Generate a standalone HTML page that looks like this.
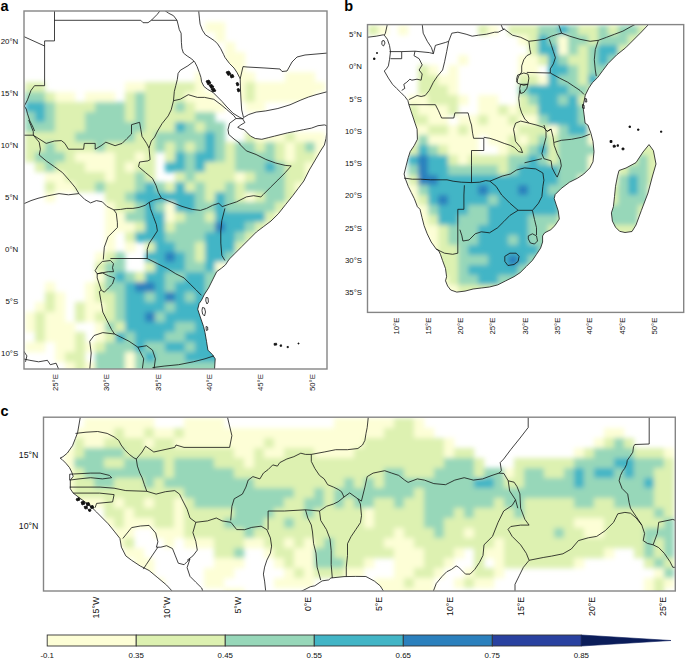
<!DOCTYPE html>
<html><head><meta charset="utf-8"><style>
html,body{margin:0;padding:0;background:#fff;width:685px;height:659px;overflow:hidden;}
svg{display:block;}
</style></head><body>
<svg width="685" height="659" viewBox="0 0 685 659">
<rect width="685" height="659" fill="#fff"/>
<defs>
<clipPath id="clipa"><rect x="24" y="11" width="303" height="358"/></clipPath>
<clipPath id="landa"><polygon points="23,10 164,10 168.8,13.3 173.5,15.7 177,20.3 178.2,25 179.3,29.7 181.1,33.2 181.4,42.3 181.9,48.4 183.4,53 187.2,56 191.8,59 194.8,62.1 197.1,66.6 199.4,72.7 200.9,77.3 201.6,81.8 203.9,86.4 207.7,89.4 213,92.4 217.6,97 222.1,101.5 226,106 233.1,113.3 239.1,117 241,118 243.5,119 244.9,122.5 240.9,124.9 237.7,127.3 240.9,128.9 244.1,129.7 246.5,132.1 250.5,136.1 255.3,138.5 261.8,139.3 268.2,137.7 274.6,136.1 281,134.5 287.4,132.9 295.5,131.3 303.5,129.7 311.5,128.1 318,125.7 324.4,124.9 326.8,125.7 326.8,132.1 326,138.5 324.4,145 321.1,150 314.7,160.9 309.3,170 303.8,181 298.3,188.3 292.9,195.5 285.6,204.6 278.3,213.8 271,221 263.7,226.5 256.4,232 249.1,239.3 241.9,246.5 234.6,253.8 229.1,259.3 225.5,264.8 221.7,268 216.7,271.7 212.6,279.9 208.5,288.1 204.5,294.2 201.4,300.4 199.2,303.4 197.7,309.2 200.6,318 203.6,326.7 205,332.6 206.5,341.3 207.9,350.1 212.3,354.5 215.2,358.8 214.5,371 23,371"/><polygon points="198.6,10 199.4,18.1 200.1,24.1 202.4,30.2 205.4,34.8 210,37.8 214.5,40.8 217.6,43.9 220.6,48.4 223.6,54.5 225,57.5 229.6,63.6 234.1,68.1 237.1,72.7 239.4,77.2 240.2,78.8 240.5,90 241,100 241.7,110 243.5,117.5 248.8,114.5 256.1,112.1 265.8,110.9 277.9,108.5 290,104.8 300.9,100 308.5,97 316,94.7 329,91.3 329,10"/></clipPath>
<clipPath id="clipb"><rect x="367.5" y="24.6" width="316.20000000000005" height="287.79999999999995"/></clipPath>
<clipPath id="landb"><polygon points="366,37.3 376.2,36.2 383.3,34.8 384.3,35.2 387.4,39.3 389.5,45.4 390.5,51.6 389.5,59.7 388.4,65.9 386.4,68.9 384.3,71 388.4,78.1 392.5,84.3 396.6,88.4 400.7,92.4 404.8,96.5 407.9,100.6 408.9,104.7 410.9,110.8 413,117 415,123.1 417.1,129.2 417.4,139.3 414.3,145.4 410.2,151.6 408.2,157.7 406.1,165.9 404.1,174 405.1,178.1 408.2,186.3 411.2,192.4 414.3,198.6 417.4,206.7 420,209.3 422,217.5 424.1,225.7 427.2,233.8 431.2,242 436.3,249.2 438.4,250.2 440.4,254.3 442.5,260.4 445.5,268.6 446.6,276.7 445.5,280.8 447.6,286 450.7,290 456.8,292.1 465,291.1 473.1,289 481.3,288 489.5,287 497.7,284.9 505.8,280.8 514,276.7 520.1,272.7 526.3,266.5 532.4,260.4 536.5,254.3 540.6,248.1 542.6,242 542.6,235.9 544.7,232.8 550.8,229.7 554.9,225.7 559.3,219 558.2,210.8 556.2,204.7 554.2,198.6 555.2,194.5 561.3,188.4 569.5,182.2 577.7,178.1 583.8,174 589.9,167.9 593,161.8 594,151.6 593,141.4 590.9,133.2 587.9,125 585.1,123.1 584.1,114.9 583,106.7 584.3,100 585.3,95.1 588.8,88.1 592.3,82.8 597.6,77.6 602.8,70.5 608.1,63.5 616.8,54.8 625.6,47.8 634.4,39 641.4,32 649,23 366,23"/><polygon points="649,144.6 653.4,150.6 656,164 652.5,176 648,193 641.4,210.4 636,225 632,231.5 625,232.5 619.6,231.3 615.5,227.2 612.4,221.1 611.4,212.9 613.4,206.7 614.5,196.5 615.5,186.3 617.5,176.1 619,170.5 626,168 636,162.6 643,152"/></clipPath>
<clipPath id="clipc"><rect x="43.5" y="417.2" width="631.8" height="173.8"/></clipPath>
<clipPath id="landc"><polygon points="80.5,416 677,416 677,592 384.9,592 384.9,591.1 380.5,586.7 374.7,580.9 365.9,576.5 348.4,576.5 330.9,578 322.1,580.9 310.4,586.7 300.2,591.1 300.2,592 172.5,592 172.5,591 166.6,585.1 157.9,577.8 149.1,570.5 140.4,566.1 131.6,560.3 125.8,555.9 121.4,547.2 119.9,538.4 114.1,531.1 108.2,523.8 102.4,518 96.6,512.1 90.7,506.3 84.9,501.9 79,497.5 73.2,493.1 70.3,488.8 70.3,480 73.2,476.4 71.7,472 69.5,467.6 65.9,463.3 62.2,459.6 60.1,458.1 63,456.7 67.4,453 72.5,445.7 75.4,438.4 77.6,432.6"/></clipPath>
<filter id="bl" x="-5%" y="-5%" width="110%" height="110%"><feGaussianBlur stdDeviation="2.5"/></filter>
</defs>
<g clip-path="url(#clipa)"><g clip-path="url(#landa)"><g filter="url(#bl)"><rect x="205.00" y="22.00" width="20.30" height="10.30" fill="#fdfed6"/>
<rect x="215.00" y="32.00" width="10.30" height="10.30" fill="#fdfed6"/>
<rect x="225.00" y="42.00" width="10.30" height="10.30" fill="#fdfed6"/>
<rect x="225.00" y="52.00" width="20.30" height="10.30" fill="#fdfed6"/>
<rect x="225.00" y="62.00" width="20.30" height="10.30" fill="#fdfed6"/>
<rect x="195.00" y="72.00" width="20.30" height="10.30" fill="#fdfed6"/>
<rect x="235.00" y="72.00" width="20.30" height="10.30" fill="#fdfed6"/>
<rect x="285.00" y="72.00" width="30.30" height="10.30" fill="#fdfed6"/>
<rect x="25.00" y="82.00" width="20.30" height="10.30" fill="#ddf1b1"/>
<rect x="125.00" y="82.00" width="20.30" height="10.30" fill="#fdfed6"/>
<rect x="145.00" y="82.00" width="50.30" height="10.30" fill="#ddf1b1"/>
<rect x="195.00" y="82.00" width="10.30" height="10.30" fill="#fdfed6"/>
<rect x="235.00" y="82.00" width="10.30" height="10.30" fill="#fdfed6"/>
<rect x="245.00" y="82.00" width="10.30" height="10.30" fill="#ddf1b1"/>
<rect x="255.00" y="82.00" width="70.30" height="10.30" fill="#fdfed6"/>
<rect x="25.00" y="92.00" width="20.30" height="10.30" fill="#97d7b9"/>
<rect x="45.00" y="92.00" width="10.30" height="10.30" fill="#ddf1b1"/>
<rect x="55.00" y="92.00" width="20.30" height="10.30" fill="#fdfed6"/>
<rect x="85.00" y="92.00" width="30.30" height="10.30" fill="#fdfed6"/>
<rect x="125.00" y="92.00" width="10.30" height="10.30" fill="#ddf1b1"/>
<rect x="135.00" y="92.00" width="10.30" height="10.30" fill="#97d7b9"/>
<rect x="145.00" y="92.00" width="40.30" height="10.30" fill="#ddf1b1"/>
<rect x="185.00" y="92.00" width="30.30" height="10.30" fill="#fdfed6"/>
<rect x="235.00" y="92.00" width="10.30" height="10.30" fill="#fdfed6"/>
<rect x="245.00" y="92.00" width="10.30" height="10.30" fill="#ddf1b1"/>
<rect x="255.00" y="92.00" width="60.30" height="10.30" fill="#fdfed6"/>
<rect x="25.00" y="102.00" width="20.30" height="10.30" fill="#42b5c6"/>
<rect x="45.00" y="102.00" width="10.30" height="10.30" fill="#97d7b9"/>
<rect x="55.00" y="102.00" width="40.30" height="10.30" fill="#ddf1b1"/>
<rect x="95.00" y="102.00" width="30.30" height="10.30" fill="#97d7b9"/>
<rect x="125.00" y="102.00" width="10.30" height="10.30" fill="#ddf1b1"/>
<rect x="135.00" y="102.00" width="10.30" height="10.30" fill="#97d7b9"/>
<rect x="145.00" y="102.00" width="30.30" height="10.30" fill="#ddf1b1"/>
<rect x="175.00" y="102.00" width="10.30" height="10.30" fill="#97d7b9"/>
<rect x="185.00" y="102.00" width="10.30" height="10.30" fill="#ddf1b1"/>
<rect x="195.00" y="102.00" width="30.30" height="10.30" fill="#fdfed6"/>
<rect x="245.00" y="102.00" width="20.30" height="10.30" fill="#fdfed6"/>
<rect x="25.00" y="112.00" width="10.30" height="10.30" fill="#97d7b9"/>
<rect x="35.00" y="112.00" width="10.30" height="10.30" fill="#42b5c6"/>
<rect x="45.00" y="112.00" width="10.30" height="10.30" fill="#97d7b9"/>
<rect x="55.00" y="112.00" width="30.30" height="10.30" fill="#ddf1b1"/>
<rect x="85.00" y="112.00" width="40.30" height="10.30" fill="#97d7b9"/>
<rect x="125.00" y="112.00" width="10.30" height="10.30" fill="#ddf1b1"/>
<rect x="135.00" y="112.00" width="10.30" height="10.30" fill="#97d7b9"/>
<rect x="145.00" y="112.00" width="50.30" height="10.30" fill="#ddf1b1"/>
<rect x="195.00" y="112.00" width="20.30" height="10.30" fill="#97d7b9"/>
<rect x="25.00" y="122.00" width="30.30" height="10.30" fill="#97d7b9"/>
<rect x="55.00" y="122.00" width="30.30" height="10.30" fill="#ddf1b1"/>
<rect x="85.00" y="122.00" width="60.30" height="10.30" fill="#97d7b9"/>
<rect x="145.00" y="122.00" width="30.30" height="10.30" fill="#ddf1b1"/>
<rect x="175.00" y="122.00" width="10.30" height="10.30" fill="#42b5c6"/>
<rect x="185.00" y="122.00" width="10.30" height="10.30" fill="#97d7b9"/>
<rect x="195.00" y="122.00" width="10.30" height="10.30" fill="#ddf1b1"/>
<rect x="205.00" y="122.00" width="20.30" height="10.30" fill="#97d7b9"/>
<rect x="25.00" y="132.00" width="50.30" height="10.30" fill="#ddf1b1"/>
<rect x="75.00" y="132.00" width="60.30" height="10.30" fill="#97d7b9"/>
<rect x="135.00" y="132.00" width="20.30" height="10.30" fill="#ddf1b1"/>
<rect x="155.00" y="132.00" width="50.30" height="10.30" fill="#97d7b9"/>
<rect x="205.00" y="132.00" width="10.30" height="10.30" fill="#42b5c6"/>
<rect x="215.00" y="132.00" width="10.30" height="10.30" fill="#97d7b9"/>
<rect x="245.00" y="132.00" width="10.30" height="10.30" fill="#ddf1b1"/>
<rect x="255.00" y="132.00" width="30.30" height="10.30" fill="#fdfed6"/>
<rect x="285.00" y="132.00" width="10.30" height="10.30" fill="#ddf1b1"/>
<rect x="295.00" y="132.00" width="30.30" height="10.30" fill="#fdfed6"/>
<rect x="25.00" y="142.00" width="20.30" height="10.30" fill="#ddf1b1"/>
<rect x="45.00" y="142.00" width="10.30" height="10.30" fill="#97d7b9"/>
<rect x="55.00" y="142.00" width="40.30" height="10.30" fill="#ddf1b1"/>
<rect x="95.00" y="142.00" width="10.30" height="10.30" fill="#97d7b9"/>
<rect x="105.00" y="142.00" width="50.30" height="10.30" fill="#ddf1b1"/>
<rect x="155.00" y="142.00" width="10.30" height="10.30" fill="#97d7b9"/>
<rect x="165.00" y="142.00" width="10.30" height="10.30" fill="#ddf1b1"/>
<rect x="175.00" y="142.00" width="10.30" height="10.30" fill="#97d7b9"/>
<rect x="185.00" y="142.00" width="10.30" height="10.30" fill="#ddf1b1"/>
<rect x="195.00" y="142.00" width="10.30" height="10.30" fill="#97d7b9"/>
<rect x="205.00" y="142.00" width="10.30" height="10.30" fill="#42b5c6"/>
<rect x="215.00" y="142.00" width="10.30" height="10.30" fill="#97d7b9"/>
<rect x="225.00" y="142.00" width="10.30" height="10.30" fill="#ddf1b1"/>
<rect x="235.00" y="142.00" width="20.30" height="10.30" fill="#97d7b9"/>
<rect x="255.00" y="142.00" width="10.30" height="10.30" fill="#ddf1b1"/>
<rect x="265.00" y="142.00" width="10.30" height="10.30" fill="#97d7b9"/>
<rect x="275.00" y="142.00" width="10.30" height="10.30" fill="#ddf1b1"/>
<rect x="285.00" y="142.00" width="10.30" height="10.30" fill="#fdfed6"/>
<rect x="295.00" y="142.00" width="10.30" height="10.30" fill="#ddf1b1"/>
<rect x="305.00" y="142.00" width="10.30" height="10.30" fill="#97d7b9"/>
<rect x="315.00" y="142.00" width="10.30" height="10.30" fill="#fdfed6"/>
<rect x="25.00" y="152.00" width="10.30" height="10.30" fill="#ddf1b1"/>
<rect x="35.00" y="152.00" width="30.30" height="10.30" fill="#97d7b9"/>
<rect x="65.00" y="152.00" width="10.30" height="10.30" fill="#ddf1b1"/>
<rect x="75.00" y="152.00" width="40.30" height="10.30" fill="#fdfed6"/>
<rect x="115.00" y="152.00" width="20.30" height="10.30" fill="#ddf1b1"/>
<rect x="135.00" y="152.00" width="10.30" height="10.30" fill="#fdfed6"/>
<rect x="145.00" y="152.00" width="10.30" height="10.30" fill="#ddf1b1"/>
<rect x="165.00" y="152.00" width="10.30" height="10.30" fill="#ddf1b1"/>
<rect x="175.00" y="152.00" width="10.30" height="10.30" fill="#42b5c6"/>
<rect x="185.00" y="152.00" width="10.30" height="10.30" fill="#97d7b9"/>
<rect x="195.00" y="152.00" width="20.30" height="10.30" fill="#42b5c6"/>
<rect x="215.00" y="152.00" width="10.30" height="10.30" fill="#97d7b9"/>
<rect x="225.00" y="152.00" width="10.30" height="10.30" fill="#ddf1b1"/>
<rect x="235.00" y="152.00" width="40.30" height="10.30" fill="#97d7b9"/>
<rect x="275.00" y="152.00" width="10.30" height="10.30" fill="#ddf1b1"/>
<rect x="285.00" y="152.00" width="10.30" height="10.30" fill="#fdfed6"/>
<rect x="295.00" y="152.00" width="20.30" height="10.30" fill="#ddf1b1"/>
<rect x="315.00" y="152.00" width="10.30" height="10.30" fill="#fdfed6"/>
<rect x="35.00" y="162.00" width="10.30" height="10.30" fill="#ddf1b1"/>
<rect x="45.00" y="162.00" width="10.30" height="10.30" fill="#97d7b9"/>
<rect x="55.00" y="162.00" width="30.30" height="10.30" fill="#ddf1b1"/>
<rect x="85.00" y="162.00" width="30.30" height="10.30" fill="#fdfed6"/>
<rect x="115.00" y="162.00" width="10.30" height="10.30" fill="#ddf1b1"/>
<rect x="125.00" y="162.00" width="10.30" height="10.30" fill="#fdfed6"/>
<rect x="135.00" y="162.00" width="20.30" height="10.30" fill="#ddf1b1"/>
<rect x="165.00" y="162.00" width="20.30" height="10.30" fill="#42b5c6"/>
<rect x="185.00" y="162.00" width="10.30" height="10.30" fill="#97d7b9"/>
<rect x="195.00" y="162.00" width="10.30" height="10.30" fill="#42b5c6"/>
<rect x="205.00" y="162.00" width="30.30" height="10.30" fill="#ddf1b1"/>
<rect x="235.00" y="162.00" width="30.30" height="10.30" fill="#97d7b9"/>
<rect x="265.00" y="162.00" width="10.30" height="10.30" fill="#42b5c6"/>
<rect x="275.00" y="162.00" width="10.30" height="10.30" fill="#97d7b9"/>
<rect x="285.00" y="162.00" width="20.30" height="10.30" fill="#ddf1b1"/>
<rect x="305.00" y="162.00" width="10.30" height="10.30" fill="#fdfed6"/>
<rect x="45.00" y="172.00" width="20.30" height="10.30" fill="#fdfed6"/>
<rect x="65.00" y="172.00" width="40.30" height="10.30" fill="#ddf1b1"/>
<rect x="105.00" y="172.00" width="10.30" height="10.30" fill="#fdfed6"/>
<rect x="115.00" y="172.00" width="20.30" height="10.30" fill="#ddf1b1"/>
<rect x="135.00" y="172.00" width="10.30" height="10.30" fill="#97d7b9"/>
<rect x="145.00" y="172.00" width="10.30" height="10.30" fill="#ddf1b1"/>
<rect x="175.00" y="172.00" width="10.30" height="10.30" fill="#ddf1b1"/>
<rect x="185.00" y="172.00" width="10.30" height="10.30" fill="#97d7b9"/>
<rect x="195.00" y="172.00" width="40.30" height="10.30" fill="#ddf1b1"/>
<rect x="235.00" y="172.00" width="10.30" height="10.30" fill="#fdfed6"/>
<rect x="245.00" y="172.00" width="10.30" height="10.30" fill="#ddf1b1"/>
<rect x="255.00" y="172.00" width="30.30" height="10.30" fill="#97d7b9"/>
<rect x="285.00" y="172.00" width="20.30" height="10.30" fill="#ddf1b1"/>
<rect x="305.00" y="172.00" width="10.30" height="10.30" fill="#fdfed6"/>
<rect x="45.00" y="182.00" width="10.30" height="10.30" fill="#ddf1b1"/>
<rect x="55.00" y="182.00" width="20.30" height="10.30" fill="#fdfed6"/>
<rect x="75.00" y="182.00" width="20.30" height="10.30" fill="#ddf1b1"/>
<rect x="95.00" y="182.00" width="10.30" height="10.30" fill="#97d7b9"/>
<rect x="105.00" y="182.00" width="30.30" height="10.30" fill="#ddf1b1"/>
<rect x="135.00" y="182.00" width="10.30" height="10.30" fill="#97d7b9"/>
<rect x="145.00" y="182.00" width="10.30" height="10.30" fill="#42b5c6"/>
<rect x="155.00" y="182.00" width="10.30" height="10.30" fill="#97d7b9"/>
<rect x="165.00" y="182.00" width="10.30" height="10.30" fill="#ddf1b1"/>
<rect x="175.00" y="182.00" width="10.30" height="10.30" fill="#42b5c6"/>
<rect x="185.00" y="182.00" width="10.30" height="10.30" fill="#ddf1b1"/>
<rect x="195.00" y="182.00" width="10.30" height="10.30" fill="#97d7b9"/>
<rect x="205.00" y="182.00" width="20.30" height="10.30" fill="#ddf1b1"/>
<rect x="225.00" y="182.00" width="10.30" height="10.30" fill="#97d7b9"/>
<rect x="235.00" y="182.00" width="10.30" height="10.30" fill="#ddf1b1"/>
<rect x="245.00" y="182.00" width="40.30" height="10.30" fill="#97d7b9"/>
<rect x="285.00" y="182.00" width="10.30" height="10.30" fill="#ddf1b1"/>
<rect x="295.00" y="182.00" width="10.30" height="10.30" fill="#fdfed6"/>
<rect x="45.00" y="192.00" width="10.30" height="10.30" fill="#fdfed6"/>
<rect x="105.00" y="192.00" width="20.30" height="10.30" fill="#ddf1b1"/>
<rect x="125.00" y="192.00" width="10.30" height="10.30" fill="#97d7b9"/>
<rect x="135.00" y="192.00" width="60.30" height="10.30" fill="#42b5c6"/>
<rect x="195.00" y="192.00" width="10.30" height="10.30" fill="#97d7b9"/>
<rect x="205.00" y="192.00" width="10.30" height="10.30" fill="#ddf1b1"/>
<rect x="215.00" y="192.00" width="10.30" height="10.30" fill="#42b5c6"/>
<rect x="225.00" y="192.00" width="10.30" height="10.30" fill="#97d7b9"/>
<rect x="235.00" y="192.00" width="10.30" height="10.30" fill="#ddf1b1"/>
<rect x="245.00" y="192.00" width="10.30" height="10.30" fill="#fdfed6"/>
<rect x="255.00" y="192.00" width="10.30" height="10.30" fill="#ddf1b1"/>
<rect x="265.00" y="192.00" width="20.30" height="10.30" fill="#97d7b9"/>
<rect x="285.00" y="192.00" width="10.30" height="10.30" fill="#ddf1b1"/>
<rect x="295.00" y="192.00" width="10.30" height="10.30" fill="#fdfed6"/>
<rect x="105.00" y="202.00" width="10.30" height="10.30" fill="#fdfed6"/>
<rect x="115.00" y="202.00" width="20.30" height="10.30" fill="#ddf1b1"/>
<rect x="135.00" y="202.00" width="10.30" height="10.30" fill="#97d7b9"/>
<rect x="145.00" y="202.00" width="10.30" height="10.30" fill="#42b5c6"/>
<rect x="155.00" y="202.00" width="10.30" height="10.30" fill="#97d7b9"/>
<rect x="165.00" y="202.00" width="10.30" height="10.30" fill="#fdfed6"/>
<rect x="175.00" y="202.00" width="20.30" height="10.30" fill="#42b5c6"/>
<rect x="195.00" y="202.00" width="20.30" height="10.30" fill="#97d7b9"/>
<rect x="215.00" y="202.00" width="10.30" height="10.30" fill="#42b5c6"/>
<rect x="225.00" y="202.00" width="50.30" height="10.30" fill="#97d7b9"/>
<rect x="275.00" y="202.00" width="10.30" height="10.30" fill="#ddf1b1"/>
<rect x="285.00" y="202.00" width="10.30" height="10.30" fill="#fdfed6"/>
<rect x="105.00" y="212.00" width="20.30" height="10.30" fill="#fdfed6"/>
<rect x="125.00" y="212.00" width="20.30" height="10.30" fill="#97d7b9"/>
<rect x="145.00" y="212.00" width="20.30" height="10.30" fill="#42b5c6"/>
<rect x="165.00" y="212.00" width="10.30" height="10.30" fill="#fdfed6"/>
<rect x="175.00" y="212.00" width="10.30" height="10.30" fill="#ddf1b1"/>
<rect x="185.00" y="212.00" width="20.30" height="10.30" fill="#97d7b9"/>
<rect x="205.00" y="212.00" width="10.30" height="10.30" fill="#ddf1b1"/>
<rect x="215.00" y="212.00" width="50.30" height="10.30" fill="#42b5c6"/>
<rect x="265.00" y="212.00" width="10.30" height="10.30" fill="#ddf1b1"/>
<rect x="275.00" y="212.00" width="10.30" height="10.30" fill="#fdfed6"/>
<rect x="105.00" y="222.00" width="30.30" height="10.30" fill="#fdfed6"/>
<rect x="135.00" y="222.00" width="10.30" height="10.30" fill="#ddf1b1"/>
<rect x="145.00" y="222.00" width="20.30" height="10.30" fill="#42b5c6"/>
<rect x="165.00" y="222.00" width="10.30" height="10.30" fill="#ddf1b1"/>
<rect x="175.00" y="222.00" width="40.30" height="10.30" fill="#97d7b9"/>
<rect x="215.00" y="222.00" width="10.30" height="10.30" fill="#2b80bd"/>
<rect x="225.00" y="222.00" width="20.30" height="10.30" fill="#42b5c6"/>
<rect x="245.00" y="222.00" width="10.30" height="10.30" fill="#97d7b9"/>
<rect x="255.00" y="222.00" width="10.30" height="10.30" fill="#ddf1b1"/>
<rect x="265.00" y="222.00" width="10.30" height="10.30" fill="#fdfed6"/>
<rect x="105.00" y="232.00" width="10.30" height="10.30" fill="#fdfed6"/>
<rect x="125.00" y="232.00" width="10.30" height="10.30" fill="#ddf1b1"/>
<rect x="135.00" y="232.00" width="30.30" height="10.30" fill="#42b5c6"/>
<rect x="165.00" y="232.00" width="40.30" height="10.30" fill="#97d7b9"/>
<rect x="205.00" y="232.00" width="30.30" height="10.30" fill="#42b5c6"/>
<rect x="235.00" y="232.00" width="10.30" height="10.30" fill="#97d7b9"/>
<rect x="245.00" y="232.00" width="10.30" height="10.30" fill="#ddf1b1"/>
<rect x="105.00" y="242.00" width="10.30" height="10.30" fill="#fdfed6"/>
<rect x="125.00" y="242.00" width="10.30" height="10.30" fill="#fdfed6"/>
<rect x="145.00" y="242.00" width="10.30" height="10.30" fill="#ddf1b1"/>
<rect x="155.00" y="242.00" width="20.30" height="10.30" fill="#42b5c6"/>
<rect x="175.00" y="242.00" width="20.30" height="10.30" fill="#97d7b9"/>
<rect x="195.00" y="242.00" width="10.30" height="10.30" fill="#ddf1b1"/>
<rect x="205.00" y="242.00" width="30.30" height="10.30" fill="#42b5c6"/>
<rect x="235.00" y="242.00" width="10.30" height="10.30" fill="#ddf1b1"/>
<rect x="95.00" y="252.00" width="10.30" height="10.30" fill="#fdfed6"/>
<rect x="105.00" y="252.00" width="10.30" height="10.30" fill="#ddf1b1"/>
<rect x="115.00" y="252.00" width="10.30" height="10.30" fill="#97d7b9"/>
<rect x="145.00" y="252.00" width="20.30" height="10.30" fill="#42b5c6"/>
<rect x="165.00" y="252.00" width="10.30" height="10.30" fill="#2b80bd"/>
<rect x="175.00" y="252.00" width="10.30" height="10.30" fill="#42b5c6"/>
<rect x="185.00" y="252.00" width="10.30" height="10.30" fill="#97d7b9"/>
<rect x="195.00" y="252.00" width="10.30" height="10.30" fill="#ddf1b1"/>
<rect x="205.00" y="252.00" width="20.30" height="10.30" fill="#42b5c6"/>
<rect x="225.00" y="252.00" width="10.30" height="10.30" fill="#97d7b9"/>
<rect x="95.00" y="262.00" width="10.30" height="10.30" fill="#ddf1b1"/>
<rect x="105.00" y="262.00" width="20.30" height="10.30" fill="#97d7b9"/>
<rect x="145.00" y="262.00" width="10.30" height="10.30" fill="#ddf1b1"/>
<rect x="155.00" y="262.00" width="30.30" height="10.30" fill="#42b5c6"/>
<rect x="185.00" y="262.00" width="20.30" height="10.30" fill="#97d7b9"/>
<rect x="205.00" y="262.00" width="10.30" height="10.30" fill="#42b5c6"/>
<rect x="215.00" y="262.00" width="10.30" height="10.30" fill="#fdfed6"/>
<rect x="95.00" y="272.00" width="10.30" height="10.30" fill="#fdfed6"/>
<rect x="105.00" y="272.00" width="10.30" height="10.30" fill="#97d7b9"/>
<rect x="115.00" y="272.00" width="10.30" height="10.30" fill="#42b5c6"/>
<rect x="125.00" y="272.00" width="10.30" height="10.30" fill="#97d7b9"/>
<rect x="135.00" y="272.00" width="10.30" height="10.30" fill="#ddf1b1"/>
<rect x="145.00" y="272.00" width="20.30" height="10.30" fill="#42b5c6"/>
<rect x="165.00" y="272.00" width="20.30" height="10.30" fill="#97d7b9"/>
<rect x="185.00" y="272.00" width="20.30" height="10.30" fill="#42b5c6"/>
<rect x="205.00" y="272.00" width="20.30" height="10.30" fill="#97d7b9"/>
<rect x="225.00" y="272.00" width="10.30" height="10.30" fill="#fdfed6"/>
<rect x="45.00" y="282.00" width="10.30" height="10.30" fill="#fdfed6"/>
<rect x="85.00" y="282.00" width="10.30" height="10.30" fill="#fdfed6"/>
<rect x="95.00" y="282.00" width="10.30" height="10.30" fill="#ddf1b1"/>
<rect x="105.00" y="282.00" width="20.30" height="10.30" fill="#97d7b9"/>
<rect x="125.00" y="282.00" width="10.30" height="10.30" fill="#42b5c6"/>
<rect x="135.00" y="282.00" width="20.30" height="10.30" fill="#2b80bd"/>
<rect x="155.00" y="282.00" width="10.30" height="10.30" fill="#42b5c6"/>
<rect x="165.00" y="282.00" width="10.30" height="10.30" fill="#97d7b9"/>
<rect x="175.00" y="282.00" width="30.30" height="10.30" fill="#42b5c6"/>
<rect x="205.00" y="282.00" width="20.30" height="10.30" fill="#97d7b9"/>
<rect x="45.00" y="292.00" width="10.30" height="10.30" fill="#ddf1b1"/>
<rect x="55.00" y="292.00" width="10.30" height="10.30" fill="#fdfed6"/>
<rect x="85.00" y="292.00" width="10.30" height="10.30" fill="#fdfed6"/>
<rect x="95.00" y="292.00" width="20.30" height="10.30" fill="#ddf1b1"/>
<rect x="115.00" y="292.00" width="10.30" height="10.30" fill="#97d7b9"/>
<rect x="125.00" y="292.00" width="20.30" height="10.30" fill="#42b5c6"/>
<rect x="145.00" y="292.00" width="10.30" height="10.30" fill="#97d7b9"/>
<rect x="155.00" y="292.00" width="10.30" height="10.30" fill="#42b5c6"/>
<rect x="165.00" y="292.00" width="10.30" height="10.30" fill="#2b80bd"/>
<rect x="175.00" y="292.00" width="10.30" height="10.30" fill="#42b5c6"/>
<rect x="185.00" y="292.00" width="10.30" height="10.30" fill="#97d7b9"/>
<rect x="195.00" y="292.00" width="10.30" height="10.30" fill="#42b5c6"/>
<rect x="205.00" y="292.00" width="10.30" height="10.30" fill="#97d7b9"/>
<rect x="215.00" y="292.00" width="10.30" height="10.30" fill="#ddf1b1"/>
<rect x="35.00" y="302.00" width="10.30" height="10.30" fill="#fdfed6"/>
<rect x="45.00" y="302.00" width="10.30" height="10.30" fill="#ddf1b1"/>
<rect x="55.00" y="302.00" width="10.30" height="10.30" fill="#fdfed6"/>
<rect x="75.00" y="302.00" width="10.30" height="10.30" fill="#ddf1b1"/>
<rect x="85.00" y="302.00" width="20.30" height="10.30" fill="#fdfed6"/>
<rect x="105.00" y="302.00" width="10.30" height="10.30" fill="#ddf1b1"/>
<rect x="115.00" y="302.00" width="10.30" height="10.30" fill="#97d7b9"/>
<rect x="125.00" y="302.00" width="40.30" height="10.30" fill="#42b5c6"/>
<rect x="165.00" y="302.00" width="10.30" height="10.30" fill="#97d7b9"/>
<rect x="175.00" y="302.00" width="40.30" height="10.30" fill="#42b5c6"/>
<rect x="215.00" y="302.00" width="10.30" height="10.30" fill="#ddf1b1"/>
<rect x="25.00" y="312.00" width="10.30" height="10.30" fill="#fdfed6"/>
<rect x="35.00" y="312.00" width="10.30" height="10.30" fill="#ddf1b1"/>
<rect x="45.00" y="312.00" width="20.30" height="10.30" fill="#fdfed6"/>
<rect x="75.00" y="312.00" width="10.30" height="10.30" fill="#ddf1b1"/>
<rect x="85.00" y="312.00" width="10.30" height="10.30" fill="#fdfed6"/>
<rect x="95.00" y="312.00" width="20.30" height="10.30" fill="#ddf1b1"/>
<rect x="115.00" y="312.00" width="10.30" height="10.30" fill="#97d7b9"/>
<rect x="125.00" y="312.00" width="20.30" height="10.30" fill="#42b5c6"/>
<rect x="145.00" y="312.00" width="10.30" height="10.30" fill="#2b80bd"/>
<rect x="155.00" y="312.00" width="10.30" height="10.30" fill="#97d7b9"/>
<rect x="165.00" y="312.00" width="50.30" height="10.30" fill="#42b5c6"/>
<rect x="215.00" y="312.00" width="10.30" height="10.30" fill="#97d7b9"/>
<rect x="25.00" y="322.00" width="10.30" height="10.30" fill="#fdfed6"/>
<rect x="35.00" y="322.00" width="10.30" height="10.30" fill="#ddf1b1"/>
<rect x="45.00" y="322.00" width="30.30" height="10.30" fill="#fdfed6"/>
<rect x="95.00" y="322.00" width="10.30" height="10.30" fill="#fdfed6"/>
<rect x="105.00" y="322.00" width="10.30" height="10.30" fill="#97d7b9"/>
<rect x="115.00" y="322.00" width="10.30" height="10.30" fill="#ddf1b1"/>
<rect x="125.00" y="322.00" width="50.30" height="10.30" fill="#42b5c6"/>
<rect x="175.00" y="322.00" width="20.30" height="10.30" fill="#97d7b9"/>
<rect x="195.00" y="322.00" width="20.30" height="10.30" fill="#42b5c6"/>
<rect x="215.00" y="322.00" width="10.30" height="10.30" fill="#97d7b9"/>
<rect x="35.00" y="332.00" width="10.30" height="10.30" fill="#ddf1b1"/>
<rect x="45.00" y="332.00" width="30.30" height="10.30" fill="#fdfed6"/>
<rect x="75.00" y="332.00" width="10.30" height="10.30" fill="#ddf1b1"/>
<rect x="95.00" y="332.00" width="10.30" height="10.30" fill="#fdfed6"/>
<rect x="105.00" y="332.00" width="10.30" height="10.30" fill="#ddf1b1"/>
<rect x="115.00" y="332.00" width="10.30" height="10.30" fill="#42b5c6"/>
<rect x="125.00" y="332.00" width="10.30" height="10.30" fill="#97d7b9"/>
<rect x="135.00" y="332.00" width="30.30" height="10.30" fill="#42b5c6"/>
<rect x="165.00" y="332.00" width="20.30" height="10.30" fill="#97d7b9"/>
<rect x="185.00" y="332.00" width="30.30" height="10.30" fill="#42b5c6"/>
<rect x="215.00" y="332.00" width="10.30" height="10.30" fill="#97d7b9"/>
<rect x="25.00" y="342.00" width="20.30" height="10.30" fill="#fdfed6"/>
<rect x="55.00" y="342.00" width="20.30" height="10.30" fill="#fdfed6"/>
<rect x="75.00" y="342.00" width="10.30" height="10.30" fill="#ddf1b1"/>
<rect x="85.00" y="342.00" width="10.30" height="10.30" fill="#fdfed6"/>
<rect x="95.00" y="342.00" width="10.30" height="10.30" fill="#ddf1b1"/>
<rect x="105.00" y="342.00" width="30.30" height="10.30" fill="#97d7b9"/>
<rect x="135.00" y="342.00" width="10.30" height="10.30" fill="#42b5c6"/>
<rect x="145.00" y="342.00" width="20.30" height="10.30" fill="#97d7b9"/>
<rect x="165.00" y="342.00" width="20.30" height="10.30" fill="#42b5c6"/>
<rect x="185.00" y="342.00" width="10.30" height="10.30" fill="#97d7b9"/>
<rect x="195.00" y="342.00" width="20.30" height="10.30" fill="#42b5c6"/>
<rect x="215.00" y="342.00" width="10.30" height="10.30" fill="#97d7b9"/>
<rect x="55.00" y="352.00" width="10.30" height="10.30" fill="#fdfed6"/>
<rect x="65.00" y="352.00" width="20.30" height="10.30" fill="#ddf1b1"/>
<rect x="95.00" y="352.00" width="30.30" height="10.30" fill="#97d7b9"/>
<rect x="125.00" y="352.00" width="10.30" height="10.30" fill="#fdfed6"/>
<rect x="135.00" y="352.00" width="10.30" height="10.30" fill="#97d7b9"/>
<rect x="145.00" y="352.00" width="10.30" height="10.30" fill="#42b5c6"/>
<rect x="155.00" y="352.00" width="30.30" height="10.30" fill="#97d7b9"/>
<rect x="185.00" y="352.00" width="40.30" height="10.30" fill="#42b5c6"/>
<rect x="225.00" y="352.00" width="10.30" height="10.30" fill="#ddf1b1"/>
<rect x="65.00" y="362.00" width="10.30" height="10.30" fill="#fdfed6"/>
<rect x="75.00" y="362.00" width="10.30" height="10.30" fill="#ddf1b1"/>
<rect x="85.00" y="362.00" width="10.30" height="10.30" fill="#fdfed6"/>
<rect x="95.00" y="362.00" width="30.30" height="10.30" fill="#97d7b9"/>
<rect x="125.00" y="362.00" width="10.30" height="10.30" fill="#fdfed6"/>
<rect x="135.00" y="362.00" width="90.30" height="10.30" fill="#97d7b9"/>
<rect x="225.00" y="362.00" width="10.30" height="10.30" fill="#ddf1b1"/></g></g></g>
<g clip-path="url(#clipb)"><g clip-path="url(#landb)"><g filter="url(#bl)"><rect x="368.00" y="25.00" width="10.30" height="10.30" fill="#ddf1b1"/>
<rect x="378.00" y="25.00" width="10.30" height="10.30" fill="#fdfed6"/>
<rect x="398.00" y="25.00" width="10.30" height="10.30" fill="#fdfed6"/>
<rect x="478.00" y="25.00" width="10.30" height="10.30" fill="#ddf1b1"/>
<rect x="488.00" y="25.00" width="10.30" height="10.30" fill="#fdfed6"/>
<rect x="508.00" y="25.00" width="30.30" height="10.30" fill="#ddf1b1"/>
<rect x="538.00" y="25.00" width="20.30" height="10.30" fill="#97d7b9"/>
<rect x="558.00" y="25.00" width="10.30" height="10.30" fill="#42b5c6"/>
<rect x="568.00" y="25.00" width="10.30" height="10.30" fill="#97d7b9"/>
<rect x="578.00" y="25.00" width="20.30" height="10.30" fill="#ddf1b1"/>
<rect x="598.00" y="25.00" width="10.30" height="10.30" fill="#97d7b9"/>
<rect x="608.00" y="25.00" width="10.30" height="10.30" fill="#ddf1b1"/>
<rect x="618.00" y="25.00" width="20.30" height="10.30" fill="#97d7b9"/>
<rect x="638.00" y="25.00" width="10.30" height="10.30" fill="#ddf1b1"/>
<rect x="518.00" y="35.00" width="10.30" height="10.30" fill="#fdfed6"/>
<rect x="528.00" y="35.00" width="10.30" height="10.30" fill="#ddf1b1"/>
<rect x="538.00" y="35.00" width="10.30" height="10.30" fill="#42b5c6"/>
<rect x="548.00" y="35.00" width="10.30" height="10.30" fill="#97d7b9"/>
<rect x="558.00" y="35.00" width="10.30" height="10.30" fill="#fdfed6"/>
<rect x="568.00" y="35.00" width="20.30" height="10.30" fill="#97d7b9"/>
<rect x="588.00" y="35.00" width="10.30" height="10.30" fill="#ddf1b1"/>
<rect x="598.00" y="35.00" width="30.30" height="10.30" fill="#97d7b9"/>
<rect x="628.00" y="35.00" width="10.30" height="10.30" fill="#ddf1b1"/>
<rect x="528.00" y="45.00" width="10.30" height="10.30" fill="#ddf1b1"/>
<rect x="538.00" y="45.00" width="20.30" height="10.30" fill="#42b5c6"/>
<rect x="558.00" y="45.00" width="10.30" height="10.30" fill="#fdfed6"/>
<rect x="568.00" y="45.00" width="10.30" height="10.30" fill="#97d7b9"/>
<rect x="578.00" y="45.00" width="10.30" height="10.30" fill="#ddf1b1"/>
<rect x="588.00" y="45.00" width="10.30" height="10.30" fill="#97d7b9"/>
<rect x="598.00" y="45.00" width="20.30" height="10.30" fill="#42b5c6"/>
<rect x="618.00" y="45.00" width="10.30" height="10.30" fill="#ddf1b1"/>
<rect x="458.00" y="55.00" width="10.30" height="10.30" fill="#fdfed6"/>
<rect x="518.00" y="55.00" width="20.30" height="10.30" fill="#fdfed6"/>
<rect x="538.00" y="55.00" width="10.30" height="10.30" fill="#ddf1b1"/>
<rect x="548.00" y="55.00" width="10.30" height="10.30" fill="#42b5c6"/>
<rect x="558.00" y="55.00" width="10.30" height="10.30" fill="#97d7b9"/>
<rect x="568.00" y="55.00" width="20.30" height="10.30" fill="#ddf1b1"/>
<rect x="588.00" y="55.00" width="10.30" height="10.30" fill="#97d7b9"/>
<rect x="598.00" y="55.00" width="10.30" height="10.30" fill="#42b5c6"/>
<rect x="608.00" y="55.00" width="10.30" height="10.30" fill="#97d7b9"/>
<rect x="418.00" y="65.00" width="10.30" height="10.30" fill="#ddf1b1"/>
<rect x="428.00" y="65.00" width="10.30" height="10.30" fill="#fdfed6"/>
<rect x="448.00" y="65.00" width="10.30" height="10.30" fill="#fdfed6"/>
<rect x="518.00" y="65.00" width="20.30" height="10.30" fill="#fdfed6"/>
<rect x="548.00" y="65.00" width="20.30" height="10.30" fill="#42b5c6"/>
<rect x="568.00" y="65.00" width="10.30" height="10.30" fill="#97d7b9"/>
<rect x="578.00" y="65.00" width="10.30" height="10.30" fill="#ddf1b1"/>
<rect x="588.00" y="65.00" width="20.30" height="10.30" fill="#97d7b9"/>
<rect x="608.00" y="65.00" width="10.30" height="10.30" fill="#fdfed6"/>
<rect x="418.00" y="75.00" width="20.30" height="10.30" fill="#ddf1b1"/>
<rect x="438.00" y="75.00" width="20.30" height="10.30" fill="#fdfed6"/>
<rect x="518.00" y="75.00" width="20.30" height="10.30" fill="#ddf1b1"/>
<rect x="538.00" y="75.00" width="10.30" height="10.30" fill="#fdfed6"/>
<rect x="548.00" y="75.00" width="10.30" height="10.30" fill="#42b5c6"/>
<rect x="558.00" y="75.00" width="20.30" height="10.30" fill="#97d7b9"/>
<rect x="578.00" y="75.00" width="10.30" height="10.30" fill="#ddf1b1"/>
<rect x="588.00" y="75.00" width="10.30" height="10.30" fill="#42b5c6"/>
<rect x="598.00" y="75.00" width="10.30" height="10.30" fill="#ddf1b1"/>
<rect x="418.00" y="85.00" width="30.30" height="10.30" fill="#ddf1b1"/>
<rect x="448.00" y="85.00" width="10.30" height="10.30" fill="#fdfed6"/>
<rect x="518.00" y="85.00" width="10.30" height="10.30" fill="#97d7b9"/>
<rect x="528.00" y="85.00" width="40.30" height="10.30" fill="#42b5c6"/>
<rect x="568.00" y="85.00" width="20.30" height="10.30" fill="#97d7b9"/>
<rect x="588.00" y="85.00" width="10.30" height="10.30" fill="#ddf1b1"/>
<rect x="408.00" y="95.00" width="20.30" height="10.30" fill="#fdfed6"/>
<rect x="428.00" y="95.00" width="30.30" height="10.30" fill="#ddf1b1"/>
<rect x="458.00" y="95.00" width="10.30" height="10.30" fill="#fdfed6"/>
<rect x="478.00" y="95.00" width="20.30" height="10.30" fill="#fdfed6"/>
<rect x="518.00" y="95.00" width="10.30" height="10.30" fill="#ddf1b1"/>
<rect x="528.00" y="95.00" width="10.30" height="10.30" fill="#97d7b9"/>
<rect x="538.00" y="95.00" width="20.30" height="10.30" fill="#42b5c6"/>
<rect x="558.00" y="95.00" width="10.30" height="10.30" fill="#97d7b9"/>
<rect x="568.00" y="95.00" width="10.30" height="10.30" fill="#42b5c6"/>
<rect x="578.00" y="95.00" width="10.30" height="10.30" fill="#ddf1b1"/>
<rect x="588.00" y="95.00" width="10.30" height="10.30" fill="#fdfed6"/>
<rect x="408.00" y="105.00" width="10.30" height="10.30" fill="#ddf1b1"/>
<rect x="418.00" y="105.00" width="30.30" height="10.30" fill="#fdfed6"/>
<rect x="448.00" y="105.00" width="10.30" height="10.30" fill="#ddf1b1"/>
<rect x="478.00" y="105.00" width="20.30" height="10.30" fill="#fdfed6"/>
<rect x="498.00" y="105.00" width="10.30" height="10.30" fill="#ddf1b1"/>
<rect x="508.00" y="105.00" width="10.30" height="10.30" fill="#fdfed6"/>
<rect x="518.00" y="105.00" width="20.30" height="10.30" fill="#ddf1b1"/>
<rect x="538.00" y="105.00" width="40.30" height="10.30" fill="#42b5c6"/>
<rect x="578.00" y="105.00" width="10.30" height="10.30" fill="#97d7b9"/>
<rect x="408.00" y="115.00" width="20.30" height="10.30" fill="#ddf1b1"/>
<rect x="428.00" y="115.00" width="20.30" height="10.30" fill="#fdfed6"/>
<rect x="458.00" y="115.00" width="20.30" height="10.30" fill="#fdfed6"/>
<rect x="478.00" y="115.00" width="10.30" height="10.30" fill="#ddf1b1"/>
<rect x="488.00" y="115.00" width="20.30" height="10.30" fill="#fdfed6"/>
<rect x="508.00" y="115.00" width="10.30" height="10.30" fill="#ddf1b1"/>
<rect x="518.00" y="115.00" width="20.30" height="10.30" fill="#fdfed6"/>
<rect x="538.00" y="115.00" width="10.30" height="10.30" fill="#97d7b9"/>
<rect x="548.00" y="115.00" width="30.30" height="10.30" fill="#42b5c6"/>
<rect x="578.00" y="115.00" width="10.30" height="10.30" fill="#97d7b9"/>
<rect x="408.00" y="125.00" width="20.30" height="10.30" fill="#fdfed6"/>
<rect x="428.00" y="125.00" width="20.30" height="10.30" fill="#ddf1b1"/>
<rect x="448.00" y="125.00" width="10.30" height="10.30" fill="#fdfed6"/>
<rect x="458.00" y="125.00" width="10.30" height="10.30" fill="#ddf1b1"/>
<rect x="468.00" y="125.00" width="50.30" height="10.30" fill="#fdfed6"/>
<rect x="518.00" y="125.00" width="30.30" height="10.30" fill="#ddf1b1"/>
<rect x="548.00" y="125.00" width="10.30" height="10.30" fill="#fdfed6"/>
<rect x="558.00" y="125.00" width="10.30" height="10.30" fill="#97d7b9"/>
<rect x="568.00" y="125.00" width="20.30" height="10.30" fill="#42b5c6"/>
<rect x="588.00" y="125.00" width="10.30" height="10.30" fill="#fdfed6"/>
<rect x="408.00" y="135.00" width="10.30" height="10.30" fill="#fdfed6"/>
<rect x="418.00" y="135.00" width="10.30" height="10.30" fill="#97d7b9"/>
<rect x="428.00" y="135.00" width="50.30" height="10.30" fill="#fdfed6"/>
<rect x="488.00" y="135.00" width="20.30" height="10.30" fill="#fdfed6"/>
<rect x="508.00" y="135.00" width="10.30" height="10.30" fill="#ddf1b1"/>
<rect x="518.00" y="135.00" width="10.30" height="10.30" fill="#fdfed6"/>
<rect x="528.00" y="135.00" width="10.30" height="10.30" fill="#ddf1b1"/>
<rect x="538.00" y="135.00" width="10.30" height="10.30" fill="#97d7b9"/>
<rect x="548.00" y="135.00" width="10.30" height="10.30" fill="#ddf1b1"/>
<rect x="558.00" y="135.00" width="30.30" height="10.30" fill="#97d7b9"/>
<rect x="588.00" y="135.00" width="10.30" height="10.30" fill="#fdfed6"/>
<rect x="408.00" y="145.00" width="10.30" height="10.30" fill="#ddf1b1"/>
<rect x="418.00" y="145.00" width="10.30" height="10.30" fill="#42b5c6"/>
<rect x="428.00" y="145.00" width="10.30" height="10.30" fill="#97d7b9"/>
<rect x="438.00" y="145.00" width="10.30" height="10.30" fill="#ddf1b1"/>
<rect x="448.00" y="145.00" width="30.30" height="10.30" fill="#fdfed6"/>
<rect x="498.00" y="145.00" width="10.30" height="10.30" fill="#fdfed6"/>
<rect x="508.00" y="145.00" width="20.30" height="10.30" fill="#ddf1b1"/>
<rect x="528.00" y="145.00" width="10.30" height="10.30" fill="#97d7b9"/>
<rect x="538.00" y="145.00" width="10.30" height="10.30" fill="#42b5c6"/>
<rect x="548.00" y="145.00" width="10.30" height="10.30" fill="#ddf1b1"/>
<rect x="558.00" y="145.00" width="40.30" height="10.30" fill="#97d7b9"/>
<rect x="638.00" y="145.00" width="20.30" height="10.30" fill="#ddf1b1"/>
<rect x="408.00" y="155.00" width="10.30" height="10.30" fill="#42b5c6"/>
<rect x="418.00" y="155.00" width="10.30" height="10.30" fill="#2b80bd"/>
<rect x="428.00" y="155.00" width="20.30" height="10.30" fill="#42b5c6"/>
<rect x="448.00" y="155.00" width="10.30" height="10.30" fill="#ddf1b1"/>
<rect x="458.00" y="155.00" width="10.30" height="10.30" fill="#fdfed6"/>
<rect x="468.00" y="155.00" width="40.30" height="10.30" fill="#ddf1b1"/>
<rect x="508.00" y="155.00" width="20.30" height="10.30" fill="#97d7b9"/>
<rect x="528.00" y="155.00" width="10.30" height="10.30" fill="#42b5c6"/>
<rect x="538.00" y="155.00" width="10.30" height="10.30" fill="#97d7b9"/>
<rect x="548.00" y="155.00" width="10.30" height="10.30" fill="#ddf1b1"/>
<rect x="558.00" y="155.00" width="30.30" height="10.30" fill="#97d7b9"/>
<rect x="588.00" y="155.00" width="10.30" height="10.30" fill="#fdfed6"/>
<rect x="628.00" y="155.00" width="10.30" height="10.30" fill="#ddf1b1"/>
<rect x="638.00" y="155.00" width="10.30" height="10.30" fill="#97d7b9"/>
<rect x="648.00" y="155.00" width="10.30" height="10.30" fill="#ddf1b1"/>
<rect x="408.00" y="165.00" width="10.30" height="10.30" fill="#97d7b9"/>
<rect x="418.00" y="165.00" width="10.30" height="10.30" fill="#2b80bd"/>
<rect x="428.00" y="165.00" width="20.30" height="10.30" fill="#42b5c6"/>
<rect x="448.00" y="165.00" width="50.30" height="10.30" fill="#97d7b9"/>
<rect x="498.00" y="165.00" width="10.30" height="10.30" fill="#ddf1b1"/>
<rect x="508.00" y="165.00" width="10.30" height="10.30" fill="#97d7b9"/>
<rect x="518.00" y="165.00" width="40.30" height="10.30" fill="#42b5c6"/>
<rect x="558.00" y="165.00" width="30.30" height="10.30" fill="#97d7b9"/>
<rect x="588.00" y="165.00" width="10.30" height="10.30" fill="#fdfed6"/>
<rect x="618.00" y="165.00" width="10.30" height="10.30" fill="#ddf1b1"/>
<rect x="628.00" y="165.00" width="20.30" height="10.30" fill="#97d7b9"/>
<rect x="648.00" y="165.00" width="10.30" height="10.30" fill="#ddf1b1"/>
<rect x="408.00" y="175.00" width="10.30" height="10.30" fill="#ddf1b1"/>
<rect x="418.00" y="175.00" width="20.30" height="10.30" fill="#2b80bd"/>
<rect x="438.00" y="175.00" width="120.30" height="10.30" fill="#42b5c6"/>
<rect x="558.00" y="175.00" width="20.30" height="10.30" fill="#97d7b9"/>
<rect x="578.00" y="175.00" width="10.30" height="10.30" fill="#fdfed6"/>
<rect x="608.00" y="175.00" width="10.30" height="10.30" fill="#fdfed6"/>
<rect x="618.00" y="175.00" width="10.30" height="10.30" fill="#97d7b9"/>
<rect x="628.00" y="175.00" width="10.30" height="10.30" fill="#42b5c6"/>
<rect x="638.00" y="175.00" width="10.30" height="10.30" fill="#97d7b9"/>
<rect x="648.00" y="175.00" width="10.30" height="10.30" fill="#ddf1b1"/>
<rect x="408.00" y="185.00" width="10.30" height="10.30" fill="#fdfed6"/>
<rect x="418.00" y="185.00" width="10.30" height="10.30" fill="#97d7b9"/>
<rect x="428.00" y="185.00" width="50.30" height="10.30" fill="#42b5c6"/>
<rect x="478.00" y="185.00" width="10.30" height="10.30" fill="#2b80bd"/>
<rect x="488.00" y="185.00" width="30.30" height="10.30" fill="#42b5c6"/>
<rect x="518.00" y="185.00" width="10.30" height="10.30" fill="#2b80bd"/>
<rect x="528.00" y="185.00" width="20.30" height="10.30" fill="#42b5c6"/>
<rect x="548.00" y="185.00" width="20.30" height="10.30" fill="#97d7b9"/>
<rect x="568.00" y="185.00" width="10.30" height="10.30" fill="#ddf1b1"/>
<rect x="608.00" y="185.00" width="10.30" height="10.30" fill="#ddf1b1"/>
<rect x="618.00" y="185.00" width="10.30" height="10.30" fill="#97d7b9"/>
<rect x="628.00" y="185.00" width="10.30" height="10.30" fill="#42b5c6"/>
<rect x="638.00" y="185.00" width="10.30" height="10.30" fill="#97d7b9"/>
<rect x="648.00" y="185.00" width="10.30" height="10.30" fill="#fdfed6"/>
<rect x="408.00" y="195.00" width="10.30" height="10.30" fill="#fdfed6"/>
<rect x="418.00" y="195.00" width="10.30" height="10.30" fill="#ddf1b1"/>
<rect x="428.00" y="195.00" width="10.30" height="10.30" fill="#42b5c6"/>
<rect x="438.00" y="195.00" width="10.30" height="10.30" fill="#2b80bd"/>
<rect x="448.00" y="195.00" width="40.30" height="10.30" fill="#42b5c6"/>
<rect x="488.00" y="195.00" width="10.30" height="10.30" fill="#97d7b9"/>
<rect x="498.00" y="195.00" width="60.30" height="10.30" fill="#42b5c6"/>
<rect x="558.00" y="195.00" width="10.30" height="10.30" fill="#97d7b9"/>
<rect x="568.00" y="195.00" width="10.30" height="10.30" fill="#fdfed6"/>
<rect x="608.00" y="195.00" width="10.30" height="10.30" fill="#ddf1b1"/>
<rect x="618.00" y="195.00" width="30.30" height="10.30" fill="#97d7b9"/>
<rect x="418.00" y="205.00" width="10.30" height="10.30" fill="#fdfed6"/>
<rect x="428.00" y="205.00" width="10.30" height="10.30" fill="#97d7b9"/>
<rect x="438.00" y="205.00" width="30.30" height="10.30" fill="#42b5c6"/>
<rect x="468.00" y="205.00" width="20.30" height="10.30" fill="#97d7b9"/>
<rect x="488.00" y="205.00" width="70.30" height="10.30" fill="#42b5c6"/>
<rect x="558.00" y="205.00" width="10.30" height="10.30" fill="#97d7b9"/>
<rect x="608.00" y="205.00" width="30.30" height="10.30" fill="#97d7b9"/>
<rect x="638.00" y="205.00" width="10.30" height="10.30" fill="#ddf1b1"/>
<rect x="418.00" y="215.00" width="10.30" height="10.30" fill="#fdfed6"/>
<rect x="428.00" y="215.00" width="10.30" height="10.30" fill="#ddf1b1"/>
<rect x="438.00" y="215.00" width="20.30" height="10.30" fill="#42b5c6"/>
<rect x="458.00" y="215.00" width="30.30" height="10.30" fill="#97d7b9"/>
<rect x="488.00" y="215.00" width="40.30" height="10.30" fill="#42b5c6"/>
<rect x="528.00" y="215.00" width="30.30" height="10.30" fill="#97d7b9"/>
<rect x="558.00" y="215.00" width="10.30" height="10.30" fill="#ddf1b1"/>
<rect x="608.00" y="215.00" width="30.30" height="10.30" fill="#97d7b9"/>
<rect x="638.00" y="215.00" width="10.30" height="10.30" fill="#fdfed6"/>
<rect x="418.00" y="225.00" width="20.30" height="10.30" fill="#fdfed6"/>
<rect x="438.00" y="225.00" width="10.30" height="10.30" fill="#ddf1b1"/>
<rect x="448.00" y="225.00" width="30.30" height="10.30" fill="#97d7b9"/>
<rect x="478.00" y="225.00" width="50.30" height="10.30" fill="#42b5c6"/>
<rect x="528.00" y="225.00" width="20.30" height="10.30" fill="#97d7b9"/>
<rect x="548.00" y="225.00" width="10.30" height="10.30" fill="#ddf1b1"/>
<rect x="608.00" y="225.00" width="30.30" height="10.30" fill="#ddf1b1"/>
<rect x="428.00" y="235.00" width="10.30" height="10.30" fill="#fdfed6"/>
<rect x="438.00" y="235.00" width="10.30" height="10.30" fill="#ddf1b1"/>
<rect x="448.00" y="235.00" width="30.30" height="10.30" fill="#97d7b9"/>
<rect x="478.00" y="235.00" width="30.30" height="10.30" fill="#42b5c6"/>
<rect x="508.00" y="235.00" width="10.30" height="10.30" fill="#97d7b9"/>
<rect x="518.00" y="235.00" width="10.30" height="10.30" fill="#42b5c6"/>
<rect x="528.00" y="235.00" width="30.30" height="10.30" fill="#97d7b9"/>
<rect x="428.00" y="245.00" width="10.30" height="10.30" fill="#fdfed6"/>
<rect x="438.00" y="245.00" width="20.30" height="10.30" fill="#ddf1b1"/>
<rect x="458.00" y="245.00" width="10.30" height="10.30" fill="#97d7b9"/>
<rect x="468.00" y="245.00" width="70.30" height="10.30" fill="#42b5c6"/>
<rect x="538.00" y="245.00" width="10.30" height="10.30" fill="#97d7b9"/>
<rect x="548.00" y="245.00" width="10.30" height="10.30" fill="#fdfed6"/>
<rect x="438.00" y="255.00" width="20.30" height="10.30" fill="#ddf1b1"/>
<rect x="458.00" y="255.00" width="30.30" height="10.30" fill="#97d7b9"/>
<rect x="488.00" y="255.00" width="20.30" height="10.30" fill="#42b5c6"/>
<rect x="508.00" y="255.00" width="10.30" height="10.30" fill="#2b80bd"/>
<rect x="518.00" y="255.00" width="10.30" height="10.30" fill="#42b5c6"/>
<rect x="528.00" y="255.00" width="10.30" height="10.30" fill="#97d7b9"/>
<rect x="538.00" y="255.00" width="10.30" height="10.30" fill="#ddf1b1"/>
<rect x="438.00" y="265.00" width="20.30" height="10.30" fill="#ddf1b1"/>
<rect x="458.00" y="265.00" width="10.30" height="10.30" fill="#97d7b9"/>
<rect x="468.00" y="265.00" width="50.30" height="10.30" fill="#42b5c6"/>
<rect x="518.00" y="265.00" width="10.30" height="10.30" fill="#97d7b9"/>
<rect x="528.00" y="265.00" width="10.30" height="10.30" fill="#fdfed6"/>
<rect x="438.00" y="275.00" width="10.30" height="10.30" fill="#fdfed6"/>
<rect x="448.00" y="275.00" width="10.30" height="10.30" fill="#ddf1b1"/>
<rect x="458.00" y="275.00" width="20.30" height="10.30" fill="#97d7b9"/>
<rect x="478.00" y="275.00" width="20.30" height="10.30" fill="#42b5c6"/>
<rect x="498.00" y="275.00" width="20.30" height="10.30" fill="#97d7b9"/>
<rect x="518.00" y="275.00" width="10.30" height="10.30" fill="#fdfed6"/>
<rect x="448.00" y="285.00" width="10.30" height="10.30" fill="#fdfed6"/>
<rect x="458.00" y="285.00" width="40.30" height="10.30" fill="#ddf1b1"/></g></g></g>
<g clip-path="url(#clipc)"><g clip-path="url(#landc)"><g filter="url(#bl)"><rect x="84.00" y="418.00" width="70.30" height="10.30" fill="#fdfed6"/>
<rect x="184.00" y="418.00" width="40.30" height="10.30" fill="#fdfed6"/>
<rect x="334.00" y="418.00" width="60.30" height="10.30" fill="#fdfed6"/>
<rect x="394.00" y="418.00" width="20.30" height="10.30" fill="#ddf1b1"/>
<rect x="414.00" y="418.00" width="10.30" height="10.30" fill="#fdfed6"/>
<rect x="74.00" y="428.00" width="40.30" height="10.30" fill="#fdfed6"/>
<rect x="114.00" y="428.00" width="10.30" height="10.30" fill="#ddf1b1"/>
<rect x="124.00" y="428.00" width="20.30" height="10.30" fill="#fdfed6"/>
<rect x="144.00" y="428.00" width="10.30" height="10.30" fill="#ddf1b1"/>
<rect x="154.00" y="428.00" width="20.30" height="10.30" fill="#fdfed6"/>
<rect x="174.00" y="428.00" width="10.30" height="10.30" fill="#ddf1b1"/>
<rect x="184.00" y="428.00" width="200.30" height="10.30" fill="#fdfed6"/>
<rect x="384.00" y="428.00" width="30.30" height="10.30" fill="#ddf1b1"/>
<rect x="414.00" y="428.00" width="20.30" height="10.30" fill="#fdfed6"/>
<rect x="604.00" y="428.00" width="20.30" height="10.30" fill="#fdfed6"/>
<rect x="74.00" y="438.00" width="10.30" height="10.30" fill="#ddf1b1"/>
<rect x="84.00" y="438.00" width="20.30" height="10.30" fill="#fdfed6"/>
<rect x="104.00" y="438.00" width="40.30" height="10.30" fill="#ddf1b1"/>
<rect x="144.00" y="438.00" width="10.30" height="10.30" fill="#fdfed6"/>
<rect x="154.00" y="438.00" width="20.30" height="10.30" fill="#ddf1b1"/>
<rect x="174.00" y="438.00" width="90.30" height="10.30" fill="#fdfed6"/>
<rect x="264.00" y="438.00" width="10.30" height="10.30" fill="#ddf1b1"/>
<rect x="274.00" y="438.00" width="90.30" height="10.30" fill="#fdfed6"/>
<rect x="364.00" y="438.00" width="80.30" height="10.30" fill="#ddf1b1"/>
<rect x="444.00" y="438.00" width="10.30" height="10.30" fill="#fdfed6"/>
<rect x="594.00" y="438.00" width="10.30" height="10.30" fill="#fdfed6"/>
<rect x="604.00" y="438.00" width="10.30" height="10.30" fill="#ddf1b1"/>
<rect x="614.00" y="438.00" width="10.30" height="10.30" fill="#97d7b9"/>
<rect x="624.00" y="438.00" width="10.30" height="10.30" fill="#ddf1b1"/>
<rect x="64.00" y="448.00" width="10.30" height="10.30" fill="#fdfed6"/>
<rect x="74.00" y="448.00" width="10.30" height="10.30" fill="#ddf1b1"/>
<rect x="84.00" y="448.00" width="40.30" height="10.30" fill="#97d7b9"/>
<rect x="124.00" y="448.00" width="110.30" height="10.30" fill="#ddf1b1"/>
<rect x="234.00" y="448.00" width="20.30" height="10.30" fill="#fdfed6"/>
<rect x="254.00" y="448.00" width="10.30" height="10.30" fill="#ddf1b1"/>
<rect x="264.00" y="448.00" width="20.30" height="10.30" fill="#fdfed6"/>
<rect x="284.00" y="448.00" width="30.30" height="10.30" fill="#ddf1b1"/>
<rect x="314.00" y="448.00" width="40.30" height="10.30" fill="#fdfed6"/>
<rect x="354.00" y="448.00" width="90.30" height="10.30" fill="#ddf1b1"/>
<rect x="444.00" y="448.00" width="10.30" height="10.30" fill="#fdfed6"/>
<rect x="454.00" y="448.00" width="20.30" height="10.30" fill="#ddf1b1"/>
<rect x="574.00" y="448.00" width="10.30" height="10.30" fill="#fdfed6"/>
<rect x="584.00" y="448.00" width="10.30" height="10.30" fill="#ddf1b1"/>
<rect x="594.00" y="448.00" width="40.30" height="10.30" fill="#97d7b9"/>
<rect x="634.00" y="448.00" width="30.30" height="10.30" fill="#ddf1b1"/>
<rect x="664.00" y="448.00" width="10.30" height="10.30" fill="#fdfed6"/>
<rect x="64.00" y="458.00" width="10.30" height="10.30" fill="#fdfed6"/>
<rect x="74.00" y="458.00" width="30.30" height="10.30" fill="#97d7b9"/>
<rect x="104.00" y="458.00" width="20.30" height="10.30" fill="#ddf1b1"/>
<rect x="124.00" y="458.00" width="40.30" height="10.30" fill="#97d7b9"/>
<rect x="164.00" y="458.00" width="10.30" height="10.30" fill="#ddf1b1"/>
<rect x="174.00" y="458.00" width="40.30" height="10.30" fill="#97d7b9"/>
<rect x="214.00" y="458.00" width="30.30" height="10.30" fill="#ddf1b1"/>
<rect x="244.00" y="458.00" width="10.30" height="10.30" fill="#fdfed6"/>
<rect x="254.00" y="458.00" width="190.30" height="10.30" fill="#ddf1b1"/>
<rect x="444.00" y="458.00" width="30.30" height="10.30" fill="#97d7b9"/>
<rect x="474.00" y="458.00" width="10.30" height="10.30" fill="#ddf1b1"/>
<rect x="514.00" y="458.00" width="60.30" height="10.30" fill="#ddf1b1"/>
<rect x="574.00" y="458.00" width="40.30" height="10.30" fill="#97d7b9"/>
<rect x="614.00" y="458.00" width="20.30" height="10.30" fill="#42b5c6"/>
<rect x="634.00" y="458.00" width="30.30" height="10.30" fill="#97d7b9"/>
<rect x="664.00" y="458.00" width="10.30" height="10.30" fill="#ddf1b1"/>
<rect x="64.00" y="468.00" width="10.30" height="10.30" fill="#fdfed6"/>
<rect x="74.00" y="468.00" width="10.30" height="10.30" fill="#ddf1b1"/>
<rect x="84.00" y="468.00" width="80.30" height="10.30" fill="#97d7b9"/>
<rect x="164.00" y="468.00" width="10.30" height="10.30" fill="#ddf1b1"/>
<rect x="174.00" y="468.00" width="60.30" height="10.30" fill="#97d7b9"/>
<rect x="234.00" y="468.00" width="150.30" height="10.30" fill="#ddf1b1"/>
<rect x="384.00" y="468.00" width="20.30" height="10.30" fill="#97d7b9"/>
<rect x="404.00" y="468.00" width="30.30" height="10.30" fill="#ddf1b1"/>
<rect x="434.00" y="468.00" width="40.30" height="10.30" fill="#97d7b9"/>
<rect x="474.00" y="468.00" width="10.30" height="10.30" fill="#ddf1b1"/>
<rect x="484.00" y="468.00" width="20.30" height="10.30" fill="#97d7b9"/>
<rect x="504.00" y="468.00" width="10.30" height="10.30" fill="#fdfed6"/>
<rect x="514.00" y="468.00" width="10.30" height="10.30" fill="#ddf1b1"/>
<rect x="524.00" y="468.00" width="20.30" height="10.30" fill="#97d7b9"/>
<rect x="544.00" y="468.00" width="20.30" height="10.30" fill="#ddf1b1"/>
<rect x="564.00" y="468.00" width="10.30" height="10.30" fill="#97d7b9"/>
<rect x="574.00" y="468.00" width="10.30" height="10.30" fill="#42b5c6"/>
<rect x="584.00" y="468.00" width="10.30" height="10.30" fill="#97d7b9"/>
<rect x="594.00" y="468.00" width="20.30" height="10.30" fill="#42b5c6"/>
<rect x="614.00" y="468.00" width="10.30" height="10.30" fill="#97d7b9"/>
<rect x="624.00" y="468.00" width="10.30" height="10.30" fill="#42b5c6"/>
<rect x="634.00" y="468.00" width="20.30" height="10.30" fill="#97d7b9"/>
<rect x="654.00" y="468.00" width="20.30" height="10.30" fill="#ddf1b1"/>
<rect x="64.00" y="478.00" width="10.30" height="10.30" fill="#fdfed6"/>
<rect x="74.00" y="478.00" width="20.30" height="10.30" fill="#ddf1b1"/>
<rect x="94.00" y="478.00" width="20.30" height="10.30" fill="#97d7b9"/>
<rect x="114.00" y="478.00" width="30.30" height="10.30" fill="#ddf1b1"/>
<rect x="144.00" y="478.00" width="10.30" height="10.30" fill="#97d7b9"/>
<rect x="154.00" y="478.00" width="10.30" height="10.30" fill="#ddf1b1"/>
<rect x="164.00" y="478.00" width="90.30" height="10.30" fill="#97d7b9"/>
<rect x="254.00" y="478.00" width="90.30" height="10.30" fill="#ddf1b1"/>
<rect x="344.00" y="478.00" width="10.30" height="10.30" fill="#97d7b9"/>
<rect x="354.00" y="478.00" width="10.30" height="10.30" fill="#ddf1b1"/>
<rect x="364.00" y="478.00" width="10.30" height="10.30" fill="#97d7b9"/>
<rect x="374.00" y="478.00" width="10.30" height="10.30" fill="#ddf1b1"/>
<rect x="384.00" y="478.00" width="90.30" height="10.30" fill="#97d7b9"/>
<rect x="474.00" y="478.00" width="20.30" height="10.30" fill="#42b5c6"/>
<rect x="494.00" y="478.00" width="10.30" height="10.30" fill="#97d7b9"/>
<rect x="504.00" y="478.00" width="20.30" height="10.30" fill="#ddf1b1"/>
<rect x="524.00" y="478.00" width="50.30" height="10.30" fill="#97d7b9"/>
<rect x="574.00" y="478.00" width="10.30" height="10.30" fill="#42b5c6"/>
<rect x="584.00" y="478.00" width="60.30" height="10.30" fill="#97d7b9"/>
<rect x="644.00" y="478.00" width="10.30" height="10.30" fill="#42b5c6"/>
<rect x="654.00" y="478.00" width="20.30" height="10.30" fill="#ddf1b1"/>
<rect x="64.00" y="488.00" width="10.30" height="10.30" fill="#fdfed6"/>
<rect x="74.00" y="488.00" width="110.30" height="10.30" fill="#ddf1b1"/>
<rect x="184.00" y="488.00" width="110.30" height="10.30" fill="#97d7b9"/>
<rect x="294.00" y="488.00" width="20.30" height="10.30" fill="#ddf1b1"/>
<rect x="314.00" y="488.00" width="10.30" height="10.30" fill="#97d7b9"/>
<rect x="324.00" y="488.00" width="10.30" height="10.30" fill="#ddf1b1"/>
<rect x="334.00" y="488.00" width="80.30" height="10.30" fill="#97d7b9"/>
<rect x="414.00" y="488.00" width="10.30" height="10.30" fill="#ddf1b1"/>
<rect x="424.00" y="488.00" width="230.30" height="10.30" fill="#97d7b9"/>
<rect x="654.00" y="488.00" width="20.30" height="10.30" fill="#ddf1b1"/>
<rect x="74.00" y="498.00" width="30.30" height="10.30" fill="#fdfed6"/>
<rect x="104.00" y="498.00" width="10.30" height="10.30" fill="#ddf1b1"/>
<rect x="114.00" y="498.00" width="10.30" height="10.30" fill="#fdfed6"/>
<rect x="124.00" y="498.00" width="20.30" height="10.30" fill="#ddf1b1"/>
<rect x="144.00" y="498.00" width="10.30" height="10.30" fill="#fdfed6"/>
<rect x="154.00" y="498.00" width="20.30" height="10.30" fill="#ddf1b1"/>
<rect x="174.00" y="498.00" width="10.30" height="10.30" fill="#fdfed6"/>
<rect x="184.00" y="498.00" width="10.30" height="10.30" fill="#ddf1b1"/>
<rect x="194.00" y="498.00" width="90.30" height="10.30" fill="#97d7b9"/>
<rect x="284.00" y="498.00" width="20.30" height="10.30" fill="#ddf1b1"/>
<rect x="304.00" y="498.00" width="20.30" height="10.30" fill="#97d7b9"/>
<rect x="324.00" y="498.00" width="10.30" height="10.30" fill="#ddf1b1"/>
<rect x="334.00" y="498.00" width="10.30" height="10.30" fill="#97d7b9"/>
<rect x="344.00" y="498.00" width="10.30" height="10.30" fill="#ddf1b1"/>
<rect x="354.00" y="498.00" width="20.30" height="10.30" fill="#97d7b9"/>
<rect x="374.00" y="498.00" width="20.30" height="10.30" fill="#ddf1b1"/>
<rect x="394.00" y="498.00" width="10.30" height="10.30" fill="#97d7b9"/>
<rect x="404.00" y="498.00" width="20.30" height="10.30" fill="#ddf1b1"/>
<rect x="424.00" y="498.00" width="70.30" height="10.30" fill="#97d7b9"/>
<rect x="494.00" y="498.00" width="10.30" height="10.30" fill="#ddf1b1"/>
<rect x="504.00" y="498.00" width="20.30" height="10.30" fill="#97d7b9"/>
<rect x="524.00" y="498.00" width="50.30" height="10.30" fill="#ddf1b1"/>
<rect x="574.00" y="498.00" width="20.30" height="10.30" fill="#97d7b9"/>
<rect x="594.00" y="498.00" width="20.30" height="10.30" fill="#ddf1b1"/>
<rect x="614.00" y="498.00" width="40.30" height="10.30" fill="#97d7b9"/>
<rect x="654.00" y="498.00" width="20.30" height="10.30" fill="#ddf1b1"/>
<rect x="104.00" y="508.00" width="20.30" height="10.30" fill="#ddf1b1"/>
<rect x="124.00" y="508.00" width="10.30" height="10.30" fill="#fdfed6"/>
<rect x="134.00" y="508.00" width="40.30" height="10.30" fill="#ddf1b1"/>
<rect x="174.00" y="508.00" width="10.30" height="10.30" fill="#fdfed6"/>
<rect x="184.00" y="508.00" width="50.30" height="10.30" fill="#ddf1b1"/>
<rect x="234.00" y="508.00" width="40.30" height="10.30" fill="#97d7b9"/>
<rect x="274.00" y="508.00" width="30.30" height="10.30" fill="#ddf1b1"/>
<rect x="304.00" y="508.00" width="10.30" height="10.30" fill="#97d7b9"/>
<rect x="314.00" y="508.00" width="50.30" height="10.30" fill="#ddf1b1"/>
<rect x="364.00" y="508.00" width="10.30" height="10.30" fill="#fdfed6"/>
<rect x="374.00" y="508.00" width="50.30" height="10.30" fill="#ddf1b1"/>
<rect x="424.00" y="508.00" width="30.30" height="10.30" fill="#97d7b9"/>
<rect x="454.00" y="508.00" width="10.30" height="10.30" fill="#ddf1b1"/>
<rect x="464.00" y="508.00" width="10.30" height="10.30" fill="#97d7b9"/>
<rect x="474.00" y="508.00" width="40.30" height="10.30" fill="#ddf1b1"/>
<rect x="514.00" y="508.00" width="10.30" height="10.30" fill="#97d7b9"/>
<rect x="524.00" y="508.00" width="130.30" height="10.30" fill="#ddf1b1"/>
<rect x="654.00" y="508.00" width="10.30" height="10.30" fill="#97d7b9"/>
<rect x="664.00" y="508.00" width="10.30" height="10.30" fill="#ddf1b1"/>
<rect x="104.00" y="518.00" width="10.30" height="10.30" fill="#fdfed6"/>
<rect x="114.00" y="518.00" width="10.30" height="10.30" fill="#ddf1b1"/>
<rect x="124.00" y="518.00" width="30.30" height="10.30" fill="#fdfed6"/>
<rect x="154.00" y="518.00" width="20.30" height="10.30" fill="#ddf1b1"/>
<rect x="174.00" y="518.00" width="10.30" height="10.30" fill="#fdfed6"/>
<rect x="184.00" y="518.00" width="40.30" height="10.30" fill="#ddf1b1"/>
<rect x="224.00" y="518.00" width="40.30" height="10.30" fill="#97d7b9"/>
<rect x="264.00" y="518.00" width="20.30" height="10.30" fill="#ddf1b1"/>
<rect x="284.00" y="518.00" width="10.30" height="10.30" fill="#97d7b9"/>
<rect x="294.00" y="518.00" width="70.30" height="10.30" fill="#ddf1b1"/>
<rect x="364.00" y="518.00" width="10.30" height="10.30" fill="#fdfed6"/>
<rect x="374.00" y="518.00" width="50.30" height="10.30" fill="#ddf1b1"/>
<rect x="424.00" y="518.00" width="20.30" height="10.30" fill="#97d7b9"/>
<rect x="444.00" y="518.00" width="130.30" height="10.30" fill="#ddf1b1"/>
<rect x="574.00" y="518.00" width="30.30" height="10.30" fill="#fdfed6"/>
<rect x="604.00" y="518.00" width="60.30" height="10.30" fill="#ddf1b1"/>
<rect x="664.00" y="518.00" width="10.30" height="10.30" fill="#97d7b9"/>
<rect x="114.00" y="528.00" width="20.30" height="10.30" fill="#fdfed6"/>
<rect x="154.00" y="528.00" width="30.30" height="10.30" fill="#fdfed6"/>
<rect x="184.00" y="528.00" width="60.30" height="10.30" fill="#ddf1b1"/>
<rect x="244.00" y="528.00" width="10.30" height="10.30" fill="#97d7b9"/>
<rect x="254.00" y="528.00" width="140.30" height="10.30" fill="#ddf1b1"/>
<rect x="394.00" y="528.00" width="10.30" height="10.30" fill="#fdfed6"/>
<rect x="404.00" y="528.00" width="30.30" height="10.30" fill="#ddf1b1"/>
<rect x="434.00" y="528.00" width="10.30" height="10.30" fill="#97d7b9"/>
<rect x="444.00" y="528.00" width="20.30" height="10.30" fill="#ddf1b1"/>
<rect x="464.00" y="528.00" width="10.30" height="10.30" fill="#fdfed6"/>
<rect x="474.00" y="528.00" width="80.30" height="10.30" fill="#ddf1b1"/>
<rect x="554.00" y="528.00" width="10.30" height="10.30" fill="#97d7b9"/>
<rect x="564.00" y="528.00" width="20.30" height="10.30" fill="#ddf1b1"/>
<rect x="584.00" y="528.00" width="20.30" height="10.30" fill="#fdfed6"/>
<rect x="604.00" y="528.00" width="40.30" height="10.30" fill="#ddf1b1"/>
<rect x="644.00" y="528.00" width="30.30" height="10.30" fill="#97d7b9"/>
<rect x="114.00" y="538.00" width="10.30" height="10.30" fill="#fdfed6"/>
<rect x="124.00" y="538.00" width="10.30" height="10.30" fill="#ddf1b1"/>
<rect x="164.00" y="538.00" width="10.30" height="10.30" fill="#fdfed6"/>
<rect x="184.00" y="538.00" width="30.30" height="10.30" fill="#fdfed6"/>
<rect x="214.00" y="538.00" width="30.30" height="10.30" fill="#ddf1b1"/>
<rect x="244.00" y="538.00" width="20.30" height="10.30" fill="#fdfed6"/>
<rect x="264.00" y="538.00" width="20.30" height="10.30" fill="#ddf1b1"/>
<rect x="284.00" y="538.00" width="10.30" height="10.30" fill="#fdfed6"/>
<rect x="294.00" y="538.00" width="10.30" height="10.30" fill="#ddf1b1"/>
<rect x="304.00" y="538.00" width="10.30" height="10.30" fill="#fdfed6"/>
<rect x="314.00" y="538.00" width="10.30" height="10.30" fill="#ddf1b1"/>
<rect x="324.00" y="538.00" width="10.30" height="10.30" fill="#97d7b9"/>
<rect x="334.00" y="538.00" width="50.30" height="10.30" fill="#ddf1b1"/>
<rect x="384.00" y="538.00" width="30.30" height="10.30" fill="#fdfed6"/>
<rect x="414.00" y="538.00" width="80.30" height="10.30" fill="#ddf1b1"/>
<rect x="494.00" y="538.00" width="10.30" height="10.30" fill="#fdfed6"/>
<rect x="504.00" y="538.00" width="140.30" height="10.30" fill="#ddf1b1"/>
<rect x="644.00" y="538.00" width="10.30" height="10.30" fill="#97d7b9"/>
<rect x="654.00" y="538.00" width="10.30" height="10.30" fill="#ddf1b1"/>
<rect x="664.00" y="538.00" width="10.30" height="10.30" fill="#97d7b9"/>
<rect x="124.00" y="548.00" width="20.30" height="10.30" fill="#fdfed6"/>
<rect x="214.00" y="548.00" width="20.30" height="10.30" fill="#ddf1b1"/>
<rect x="234.00" y="548.00" width="10.30" height="10.30" fill="#97d7b9"/>
<rect x="264.00" y="548.00" width="10.30" height="10.30" fill="#fdfed6"/>
<rect x="274.00" y="548.00" width="20.30" height="10.30" fill="#ddf1b1"/>
<rect x="294.00" y="548.00" width="20.30" height="10.30" fill="#fdfed6"/>
<rect x="314.00" y="548.00" width="20.30" height="10.30" fill="#97d7b9"/>
<rect x="334.00" y="548.00" width="60.30" height="10.30" fill="#ddf1b1"/>
<rect x="394.00" y="548.00" width="30.30" height="10.30" fill="#fdfed6"/>
<rect x="424.00" y="548.00" width="30.30" height="10.30" fill="#ddf1b1"/>
<rect x="454.00" y="548.00" width="10.30" height="10.30" fill="#fdfed6"/>
<rect x="474.00" y="548.00" width="10.30" height="10.30" fill="#ddf1b1"/>
<rect x="484.00" y="548.00" width="20.30" height="10.30" fill="#fdfed6"/>
<rect x="504.00" y="548.00" width="100.30" height="10.30" fill="#ddf1b1"/>
<rect x="604.00" y="548.00" width="10.30" height="10.30" fill="#fdfed6"/>
<rect x="634.00" y="548.00" width="10.30" height="10.30" fill="#ddf1b1"/>
<rect x="644.00" y="548.00" width="10.30" height="10.30" fill="#97d7b9"/>
<rect x="654.00" y="548.00" width="10.30" height="10.30" fill="#ddf1b1"/>
<rect x="664.00" y="548.00" width="10.30" height="10.30" fill="#97d7b9"/>
<rect x="134.00" y="558.00" width="20.30" height="10.30" fill="#fdfed6"/>
<rect x="214.00" y="558.00" width="30.30" height="10.30" fill="#fdfed6"/>
<rect x="274.00" y="558.00" width="10.30" height="10.30" fill="#fdfed6"/>
<rect x="284.00" y="558.00" width="10.30" height="10.30" fill="#ddf1b1"/>
<rect x="294.00" y="558.00" width="20.30" height="10.30" fill="#fdfed6"/>
<rect x="314.00" y="558.00" width="30.30" height="10.30" fill="#97d7b9"/>
<rect x="344.00" y="558.00" width="20.30" height="10.30" fill="#ddf1b1"/>
<rect x="364.00" y="558.00" width="10.30" height="10.30" fill="#fdfed6"/>
<rect x="394.00" y="558.00" width="30.30" height="10.30" fill="#fdfed6"/>
<rect x="424.00" y="558.00" width="20.30" height="10.30" fill="#ddf1b1"/>
<rect x="444.00" y="558.00" width="10.30" height="10.30" fill="#fdfed6"/>
<rect x="474.00" y="558.00" width="10.30" height="10.30" fill="#ddf1b1"/>
<rect x="494.00" y="558.00" width="10.30" height="10.30" fill="#fdfed6"/>
<rect x="504.00" y="558.00" width="70.30" height="10.30" fill="#ddf1b1"/>
<rect x="574.00" y="558.00" width="10.30" height="10.30" fill="#fdfed6"/>
<rect x="644.00" y="558.00" width="10.30" height="10.30" fill="#ddf1b1"/>
<rect x="654.00" y="558.00" width="10.30" height="10.30" fill="#97d7b9"/>
<rect x="664.00" y="558.00" width="10.30" height="10.30" fill="#ddf1b1"/>
<rect x="144.00" y="568.00" width="10.30" height="10.30" fill="#fdfed6"/>
<rect x="204.00" y="568.00" width="30.30" height="10.30" fill="#fdfed6"/>
<rect x="284.00" y="568.00" width="10.30" height="10.30" fill="#fdfed6"/>
<rect x="294.00" y="568.00" width="10.30" height="10.30" fill="#ddf1b1"/>
<rect x="304.00" y="568.00" width="10.30" height="10.30" fill="#fdfed6"/>
<rect x="314.00" y="568.00" width="30.30" height="10.30" fill="#ddf1b1"/>
<rect x="344.00" y="568.00" width="20.30" height="10.30" fill="#fdfed6"/>
<rect x="394.00" y="568.00" width="20.30" height="10.30" fill="#fdfed6"/>
<rect x="414.00" y="568.00" width="20.30" height="10.30" fill="#ddf1b1"/>
<rect x="434.00" y="568.00" width="10.30" height="10.30" fill="#fdfed6"/>
<rect x="464.00" y="568.00" width="10.30" height="10.30" fill="#fdfed6"/>
<rect x="474.00" y="568.00" width="20.30" height="10.30" fill="#ddf1b1"/>
<rect x="494.00" y="568.00" width="10.30" height="10.30" fill="#fdfed6"/>
<rect x="654.00" y="568.00" width="10.30" height="10.30" fill="#fdfed6"/>
<rect x="664.00" y="568.00" width="10.30" height="10.30" fill="#97d7b9"/>
<rect x="154.00" y="578.00" width="10.30" height="10.30" fill="#fdfed6"/>
<rect x="204.00" y="578.00" width="20.30" height="10.30" fill="#fdfed6"/>
<rect x="274.00" y="578.00" width="40.30" height="10.30" fill="#fdfed6"/>
<rect x="374.00" y="578.00" width="30.30" height="10.30" fill="#fdfed6"/>
<rect x="404.00" y="578.00" width="10.30" height="10.30" fill="#ddf1b1"/>
<rect x="414.00" y="578.00" width="20.30" height="10.30" fill="#fdfed6"/>
<rect x="454.00" y="578.00" width="10.30" height="10.30" fill="#fdfed6"/>
<rect x="464.00" y="578.00" width="10.30" height="10.30" fill="#ddf1b1"/>
<rect x="474.00" y="578.00" width="20.30" height="10.30" fill="#fdfed6"/>
<rect x="644.00" y="578.00" width="10.30" height="10.30" fill="#fdfed6"/>
<rect x="654.00" y="578.00" width="10.30" height="10.30" fill="#ddf1b1"/>
<rect x="664.00" y="578.00" width="10.30" height="10.30" fill="#fdfed6"/>
<rect x="224.00" y="588.00" width="20.30" height="10.30" fill="#fdfed6"/>
<rect x="374.00" y="588.00" width="60.30" height="10.30" fill="#fdfed6"/>
<rect x="644.00" y="588.00" width="10.30" height="10.30" fill="#fdfed6"/>
<rect x="654.00" y="588.00" width="10.30" height="10.30" fill="#ddf1b1"/></g></g></g>
<g clip-path="url(#clipa)"><polyline points="54.5,10 54.5,40.9 44.6,40.9 44.6,85.7 34.5,85.7 31,90.4 27.5,99.8 25.2,104.4 23,106.8" fill="none" stroke="#111" stroke-width="0.8" stroke-linejoin="round"/>
<polyline points="23,36.2 44.6,46" fill="none" stroke="#111" stroke-width="0.8" stroke-linejoin="round"/>
<polyline points="54.5,20.3 140.8,20.3 143,22.7 148,22.7 151.3,20.3 177,20.3" fill="none" stroke="#111" stroke-width="0.8" stroke-linejoin="round"/>
<polyline points="151.3,20.3 157.1,14.5 160.7,10" fill="none" stroke="#111" stroke-width="0.8" stroke-linejoin="round"/>
<polyline points="164,10 168.8,13.3 173.5,15.7 177,20.3 178.2,25 179.3,29.7 181.1,33.2 181.4,42.3 181.9,48.4 183.4,53 187.2,56 191.8,59 194.8,62.1 197.1,66.6 199.4,72.7 200.9,77.3 201.6,81.8 203.9,86.4 207.7,89.4 213,92.4 217.6,97 222.1,101.5 226,106 233.1,113.3 239.1,117 241,118 243.5,119" fill="none" stroke="#111" stroke-width="0.8" stroke-linejoin="round"/>
<polyline points="243,119.5 244.9,122.5 240.9,124.9 237.7,127.3 240.9,128.9 244.1,129.7 246.5,132.1 250.5,136.1 255.3,138.5 261.8,139.3 268.2,137.7 274.6,136.1 281,134.5 287.4,132.9 295.5,131.3 303.5,129.7 311.5,128.1 318,125.7 324.4,124.9 326.8,125.7 326.8,132.1 326,138.5 324.4,145 321.1,150 314.7,160.9 309.3,170 303.8,181 298.3,188.3 292.9,195.5 285.6,204.6 278.3,213.8 271,221 263.7,226.5 256.4,232 249.1,239.3 241.9,246.5 234.6,253.8 229.1,259.3 225.5,264.8 221.7,268 216.7,271.7 212.6,279.9 208.5,288.1 204.5,294.2 201.4,300.4 199.2,303.4 197.7,309.2 200.6,318 203.6,326.7 205,332.6 206.5,341.3 207.9,350.1 212.3,354.5 215.2,358.8 214.5,370" fill="none" stroke="#111" stroke-width="0.8" stroke-linejoin="round"/>
<polyline points="198.6,10 199.4,18.1 200.1,24.1 202.4,30.2 205.4,34.8 210,37.8 214.5,40.8 217.6,43.9 220.6,48.4 223.6,54.5 225,57.5 229.6,63.6 234.1,68.1 237.1,72.7 239.4,77.2 240.2,78.8 240.5,90 241,100 241.7,110 243.5,117.5 248.8,114.5 256.1,112.1 265.8,110.9 277.9,108.5 290,104.8 300.9,100 308.5,97 316,94.7 328,91.5" fill="none" stroke="#111" stroke-width="0.8" stroke-linejoin="round"/>
<polyline points="240.2,78.8 243,66.6 247,67 265,68 280,69 282,71.5 287,71 292,62 297,57 305,55 328,53" fill="none" stroke="#111" stroke-width="0.8" stroke-linejoin="round"/>
<polyline points="194,61.2 187.9,65.8 180.3,70.3 178.1,73.4 177.3,79.5 175.8,85.5 174.3,91.6 173.5,100.7 171.2,109.8 168.2,115.9 162.1,123.5 157.6,131 154.6,137.1 151.3,141 149,148" fill="none" stroke="#111" stroke-width="0.8" stroke-linejoin="round"/>
<polyline points="173.5,100.7 180.3,99.2 188.3,94.7 197.4,97.4 204.6,97.4 213.8,99.3 221,104.7 226.5,109.3 233.8,115.6 236,118.5" fill="none" stroke="#111" stroke-width="0.8" stroke-linejoin="round"/>
<polyline points="236,118.5 229.6,123.3 228,129.7 228.8,134.5 234,139 240.4,143.8" fill="none" stroke="#111" stroke-width="0.8" stroke-linejoin="round"/>
<polyline points="236,118.5 243.5,118.8" fill="none" stroke="#111" stroke-width="0.8" stroke-linejoin="round"/>
<polyline points="33.3,135.2 46.2,143.4 54.4,141 61.4,140.6 64.9,143.4 68.4,149.2 83.6,149.2 84.3,143.4 95.2,143.4 95.2,149.2 101.1,145.7 105.8,142.2 115.1,145.7 122.1,143.4 126.8,138.7 131.5,134 131.5,124.7 139.6,122.3 140.8,129.3 142,136.4 146.6,143.4 149,148" fill="none" stroke="#111" stroke-width="0.8" stroke-linejoin="round"/>
<polyline points="28.7,120 31,125.8 33.3,131.7 33.3,135.2" fill="none" stroke="#111" stroke-width="0.8" stroke-linejoin="round"/>
<polyline points="23,104.4 26.3,109.1 27.5,113.8 29.8,120.8 33.3,127.8 34.5,131" fill="none" stroke="#111" stroke-width="0.8" stroke-linejoin="round"/>
<polyline points="23,135.2 33.3,135.2 39.2,142.2 40.4,149.2 39.2,155 46.2,160.9 54.4,166.7 62.5,172.6 69.6,180.7 75.4,187.7 78.9,193.6 84.7,199.4 90.6,202.9 96.4,200.6 102.3,201.8 106.9,206.4 113.9,209.9 116.3,213.4 117.4,222.8 117.4,227.5 112.8,232.1 108.1,236.8 106.9,240 104.3,247.2 103.3,259.5" fill="none" stroke="#111" stroke-width="0.8" stroke-linejoin="round"/>
<polyline points="23,204.1 31,200.6 38,198.3 47.4,195.9 59,193.6 68.4,194.8 78.9,193.6" fill="none" stroke="#111" stroke-width="0.8" stroke-linejoin="round"/>
<polyline points="149,148 150.1,159.7 147.8,160.9 139.6,162 138.5,166.7 145.5,172.6 152.5,178.4 156,185.4 158.3,192.4 161.5,198.2" fill="none" stroke="#111" stroke-width="0.8" stroke-linejoin="round"/>
<polyline points="113.9,209.9 120.7,209.4 126.8,208.4 132.9,208.4 139,207.4 145.2,205.3 149.3,202.3 153.4,200.2 157.4,199.2 161.5,198.2 171.8,202.3 182,206.4 192.2,209.4 200.4,210.4 206.5,208.4 212.6,205.3 218.8,203.3 222.2,206.6 229.4,204.2" fill="none" stroke="#111" stroke-width="0.8" stroke-linejoin="round"/>
<polyline points="229.4,204.2 236.7,201.8 246.4,196.9 253.7,195.7 260.9,196.9 263.3,194.5 270.6,187.2 277.9,180 285.2,172.7 291.2,165.9 285.2,165.4 275.5,163 265.8,159.4 256.1,154.5 246.4,150.9 239.1,143.6" fill="none" stroke="#111" stroke-width="0.8" stroke-linejoin="round"/>
<polyline points="224.9,208.4 221.8,220.7 220.8,230.9 220.8,243.1 221.8,255.4 224.9,260.5" fill="none" stroke="#111" stroke-width="0.8" stroke-linejoin="round"/>
<polyline points="149.3,202.3 150.3,208.4 153.4,216.6 156.4,224.7 157.4,230.9 153.4,237 149.3,243.1 147.2,249.3 147.2,258.5" fill="none" stroke="#111" stroke-width="0.8" stroke-linejoin="round"/>
<polyline points="110.4,258.5 147.2,258.5 157.4,263.6 167.7,268.7 175.8,273.8 184,277.9 190.1,284 196.3,290.1 201.4,295.3" fill="none" stroke="#111" stroke-width="0.8" stroke-linejoin="round"/>
<polygon points="102.3,261.5 110.4,260.5 113.5,263.6 112.5,267.7 113.5,271.7 108.4,271.7 102.3,272.8 97.2,273.8 95.1,270.7 98.2,265.6" fill="none" stroke="#111" stroke-width="0.8" stroke-linejoin="round"/>
<polyline points="97.2,273.8 102.3,272.8 108.4,275.8 114.5,277.9 112.5,284 108.4,288.1 104.3,292.2 101.2,290.1 99.2,284 97.2,277.9 97.2,273.8" fill="none" stroke="#111" stroke-width="0.8" stroke-linejoin="round"/>
<polyline points="101.2,290.1 99.3,291.7 101.4,303.4 102.8,312.1 107.2,320.9 111.6,329.6 114.5,334 120.4,336.9 129.1,341.3 137.9,347.2 140.8,353 143.7,358.8 142.2,370" fill="none" stroke="#111" stroke-width="0.8" stroke-linejoin="round"/>
<polyline points="114.5,334 102.8,332.6 94.1,335.5 89.7,341.3 91.2,353 89.7,370" fill="none" stroke="#111" stroke-width="0.8" stroke-linejoin="round"/>
<polyline points="137.9,347.2 146.6,345.7 152.5,350.1 155.4,358.8 153.9,370" fill="none" stroke="#111" stroke-width="0.8" stroke-linejoin="round"/>
<polyline points="152.5,367.6 164.1,366.1 178.7,364.7 193.3,361.8 205,358.8 213.8,355.9" fill="none" stroke="#111" stroke-width="0.8" stroke-linejoin="round"/>
<polyline points="23,358.8 29.8,360.3 38.6,361.8 47.4,360.3 50.3,364.7 56.1,363.2 59,370" fill="none" stroke="#111" stroke-width="0.8" stroke-linejoin="round"/>
<polyline points="23,350 26.9,355.9 25.5,361.8" fill="none" stroke="#111" stroke-width="0.8" stroke-linejoin="round"/>
<polygon points="206,81 209,80 211,83 208,85" fill="#111" stroke="#111" stroke-width="0.8" stroke-linejoin="round"/>
<polygon points="209,85 212,84.5 214,87 211,88.5" fill="#111" stroke="#111" stroke-width="0.8" stroke-linejoin="round"/>
<polygon points="211,89 214,88 216,91 213,92" fill="#111" stroke="#111" stroke-width="0.8" stroke-linejoin="round"/>
<polygon points="226,72 229,71 231,74 228,75.5" fill="#111" stroke="#111" stroke-width="0.8" stroke-linejoin="round"/>
<polygon points="230,75 233,74.5 234,77 231,78" fill="#111" stroke="#111" stroke-width="0.8" stroke-linejoin="round"/>
<polygon points="236,83 238,82.5 239,85 237,86" fill="#111" stroke="#111" stroke-width="0.8" stroke-linejoin="round"/>
<polygon points="237,89 239,88.5 240,91 238,92" fill="#111" stroke="#111" stroke-width="0.8" stroke-linejoin="round"/>
<polygon points="206,297.5 208,297.8 208.4,302 207,304 205.8,301" fill="none" stroke="#111" stroke-width="0.8" stroke-linejoin="round"/>
<polygon points="202.5,307.5 204.5,308 205.5,312 204.5,316 202.6,314 202,310.5" fill="none" stroke="#111" stroke-width="0.8" stroke-linejoin="round"/>
<polygon points="206,326.5 207.6,327 207.8,330 206.3,330.5" fill="none" stroke="#111" stroke-width="0.8" stroke-linejoin="round"/>
<polygon points="274,343.5 276.5,343.2 276.8,345 274.3,345.3" fill="#111" stroke="#111" stroke-width="0.8" stroke-linejoin="round"/>
<polygon points="280,345 281.5,344.8 281.7,346.3 280.2,346.4" fill="#111" stroke="#111" stroke-width="0.8" stroke-linejoin="round"/>
<polygon points="287,346.5 288.3,346.4 288.4,347.6 287.1,347.7" fill="#111" stroke="#111" stroke-width="0.8" stroke-linejoin="round"/>
<polygon points="298,343 299,343 299,344 298,344" fill="#111" stroke="#111" stroke-width="0.8" stroke-linejoin="round"/></g>
<g clip-path="url(#clipb)"><polyline points="367,37.3 376.2,36.2 383.3,34.8 384.3,35.2 387.4,39.3 389.5,45.4 390.5,51.6 389.5,59.7 388.4,65.9 386.4,68.9 384.3,71 388.4,78.1 392.5,84.3 396.6,88.4 400.7,92.4 404.8,96.5 407.9,100.6 408.9,104.7 410.9,110.8 413,117 415,123.1 417.1,129.2 417.4,139.3 414.3,145.4 410.2,151.6 408.2,157.7 406.1,165.9 404.1,174 405.1,178.1 408.2,186.3 411.2,192.4 414.3,198.6 417.4,206.7 420,209.3 422,217.5 424.1,225.7 427.2,233.8 431.2,242 436.3,249.2 438.4,250.2 440.4,254.3 442.5,260.4 445.5,268.6 446.6,276.7 445.5,280.8 447.6,286 450.7,290 456.8,292.1 465,291.1 473.1,289 481.3,288 489.5,287 497.7,284.9 505.8,280.8 514,276.7 520.1,272.7 526.3,266.5 532.4,260.4 536.5,254.3 540.6,248.1 542.6,242 542.6,235.9 544.7,232.8 550.8,229.7 554.9,225.7 559.3,219 558.2,210.8 556.2,204.7 554.2,198.6 555.2,194.5 561.3,188.4 569.5,182.2 577.7,178.1 583.8,174 589.9,167.9 593,161.8 594,151.6 593,141.4 590.9,133.2 587.9,125 585.1,123.1 584.1,114.9 583,106.7 584.3,100 585.3,95.1 588.8,88.1 592.3,82.8 597.6,77.6 602.8,70.5 608.1,63.5 616.8,54.8 625.6,47.8 634.4,39 641.4,32 648,25" fill="none" stroke="#111" stroke-width="0.8" stroke-linejoin="round"/>
<polyline points="387.4,24 385.4,33.2 384.3,35.2" fill="none" stroke="#111" stroke-width="0.8" stroke-linejoin="round"/>
<polyline points="389.5,51.6 401.7,51.6 401.7,58.7 390.5,58.7" fill="none" stroke="#111" stroke-width="0.8" stroke-linejoin="round"/>
<polyline points="401.7,51.6 415,51.2 429.3,52.6 433.4,53.6" fill="none" stroke="#111" stroke-width="0.8" stroke-linejoin="round"/>
<polyline points="415,51.2 414,55.7 419.1,58.7 422.2,64.9 419.1,70 422.2,74 421.1,80.2 417,79.2 411.9,80.2 409.9,79.2 406.8,82.2 403.8,84.3 404.8,88.4 401.7,90.4" fill="none" stroke="#111" stroke-width="0.8" stroke-linejoin="round"/>
<polyline points="433.4,53.6 435.4,45.4 445.7,42.4 448.7,41.3 446.7,51.6 444.6,61.8 442.6,70 437.5,76.1 433.4,82.2 429.3,90.4 425.2,95.5 421.1,96.5 417,95.5 413,97.6 408.9,99.6" fill="none" stroke="#111" stroke-width="0.8" stroke-linejoin="round"/>
<polyline points="422.2,24 423.2,33.2 427.3,41.3 431.4,47.5 433.4,53.6" fill="none" stroke="#111" stroke-width="0.8" stroke-linejoin="round"/>
<polyline points="448.7,41.3 451.8,33.2 457.9,32.2 466.1,34.2 472.2,36.2 478.4,35.2 486.5,34.2 494.7,32.2 498.2,32.2 504.3,29.1 512.5,35.2 520.7,37.3 528.9,41.3 537,40.3 545.2,39.3 551.4,36.2 557.5,34.2 561.6,33.2 558.5,24" fill="none" stroke="#111" stroke-width="0.8" stroke-linejoin="round"/>
<polyline points="500.8,24 502.9,29.1 504.3,29.1" fill="none" stroke="#111" stroke-width="0.8" stroke-linejoin="round"/>
<polyline points="561.6,33.2 569.7,36.2 580,39.3 590.2,41.3 598.4,40.3 606.5,37.3 614.7,34.2 622.9,31.1 632,26 636,24" fill="none" stroke="#111" stroke-width="0.8" stroke-linejoin="round"/>
<polyline points="598.4,40.3 595.3,49.5 594.3,59.7 595.3,70 596.3,76.1" fill="none" stroke="#111" stroke-width="0.8" stroke-linejoin="round"/>
<polyline points="528.9,41.3 529.9,49.5 530.9,53.6 526.8,55.7 523.8,59.7 521.7,65.9 521.7,72 518.7,76.1 516.6,82.2" fill="none" stroke="#111" stroke-width="0.8" stroke-linejoin="round"/>
<polyline points="549.3,39.3 551.4,45.4 553.4,51.6 555.4,57.7 553.4,63.8 550.3,68.9 550.3,73" fill="none" stroke="#111" stroke-width="0.8" stroke-linejoin="round"/>
<polyline points="526.8,72.4 550.3,73 559.5,78.1 567.7,82.2 573.8,86.3 580,90.4 584.1,94.5" fill="none" stroke="#111" stroke-width="0.8" stroke-linejoin="round"/>
<polygon points="517.6,75.1 523.8,73 527.9,74 528.9,78.1 527.9,84.3 523.8,85.3 520.7,84.3 517.6,83.2 516.6,79.2" fill="none" stroke="#111" stroke-width="0.8" stroke-linejoin="round"/>
<polyline points="520.7,84.3 527.9,84.3 526.8,88.4 523.8,92.4 520.7,93.5 519.7,88.4 520.7,84.3" fill="none" stroke="#111" stroke-width="0.8" stroke-linejoin="round"/>
<polyline points="519.7,90.4 518.7,98.6 519.7,106.7 521.7,112.9 524.8,119 528.9,123.1" fill="none" stroke="#111" stroke-width="0.8" stroke-linejoin="round"/>
<polyline points="528.9,123.1 520.7,121.1 515.6,123.1 513.5,129.2 514.6,135 515.5,141.4 520.6,147.5 522.6,152.6 518.5,151.6 514.4,147.5 510.4,145.4 504.2,143.4 496.1,140.3 489.9,138.3 483.8,137.3" fill="none" stroke="#111" stroke-width="0.8" stroke-linejoin="round"/>
<polyline points="528.9,123.1 537,125.2 543.2,127.2 547.3,131.3 551.1,129.1" fill="none" stroke="#111" stroke-width="0.8" stroke-linejoin="round"/>
<polyline points="589.9,134.2 581.7,137.3 571.5,139.3 561.3,140.3 554.2,142.4" fill="none" stroke="#111" stroke-width="0.8" stroke-linejoin="round"/>
<polyline points="543.9,125 546,131.1 546,137.3 543.9,145.4 541.9,153.6 543.9,158.7 551.1,160.8 552.1,167.9 555.2,174 557.2,177.1" fill="none" stroke="#111" stroke-width="0.8" stroke-linejoin="round"/>
<polyline points="547.3,131.3 551.1,129.1 553.1,137.3 554.2,145.4 557.2,153.6 560.3,159.7 561.3,165.9 559.3,172 557.2,177.1" fill="none" stroke="#111" stroke-width="0.8" stroke-linejoin="round"/>
<polyline points="524.5,162.8 541.9,158.7" fill="none" stroke="#111" stroke-width="0.8" stroke-linejoin="round"/>
<polyline points="408.9,104.7 435.4,104.7 438.5,110.8 441.6,118 453.8,118 454.9,112.9 468.1,112.9 470.2,121.1 471.5,125 472.6,133.2 473.6,138.3 483.8,138.3 483.8,150.5 471.5,150.5 471.5,165.9 471.5,182.6" fill="none" stroke="#111" stroke-width="0.8" stroke-linejoin="round"/>
<polyline points="404.1,178.1 412.3,179.2 420.4,179.2 430.7,179.8 447,179.8 453.1,181.2 461.3,182.2 471.5,182.6 479.7,182.2 485.8,180.6 489.9,181.2" fill="none" stroke="#111" stroke-width="0.8" stroke-linejoin="round"/>
<polyline points="489.9,181.2 502.2,176.1 510.4,174 516.5,170 524.5,167.9 535.8,168.9 542.9,173 543.9,180.2 542.9,186.3 541.9,196.5 538.5,203.2 533.4,209.3 532.4,210.3" fill="none" stroke="#111" stroke-width="0.8" stroke-linejoin="round"/>
<polyline points="489.9,181.2 496.1,186.3 501.7,195 509.9,203.2 518.1,210.3 532.4,210.3 534.5,219.5 536.5,227.7 536.5,235" fill="none" stroke="#111" stroke-width="0.8" stroke-linejoin="round"/>
<polyline points="464.4,185.3 463.9,195 463.9,209.3 457.8,209.3 457.8,253.2 452.7,254.3 444.5,253.2 436.3,249.2" fill="none" stroke="#111" stroke-width="0.8" stroke-linejoin="round"/>
<polyline points="459.9,229.7 461.9,235.9 462.9,241 469,240 475.2,233.8 481.3,231.8 489.5,232.8 497.7,227.7 503.8,221.6 509.9,215.4 518.1,210.3" fill="none" stroke="#111" stroke-width="0.8" stroke-linejoin="round"/>
<polygon points="528.3,235.9 532.4,233.8 536.5,235.9 537.5,241 534.5,244 530.4,243 528.3,238.9" fill="none" stroke="#111" stroke-width="0.8" stroke-linejoin="round"/>
<polygon points="504.8,256.3 509.9,253.2 516.1,253.2 519.1,256.3 518.1,261.4 514,264.5 507.9,265.5 504.8,261.4" fill="none" stroke="#111" stroke-width="0.8" stroke-linejoin="round"/>
<polygon points="649,144.6 653.4,150.6 656,164 652.5,176 648,193 641.4,210.4 636,225 632,231.5 625,232.5 619.6,231.3 615.5,227.2 612.4,221.1 611.4,212.9 613.4,206.7 614.5,196.5 615.5,186.3 617.5,176.1 619,170.5 626,168 636,162.6 643,152" fill="none" stroke="#111" stroke-width="0.8" stroke-linejoin="round"/>
<polygon points="382,41 384,40.5 385,43 383.5,46 381.8,44.5" fill="none" stroke="#111" stroke-width="0.8" stroke-linejoin="round"/>
<polygon points="376.5,52.5 377.5,52.5 377.5,53.5 376.5,53.5" fill="#111" stroke="#111" stroke-width="0.8" stroke-linejoin="round"/>
<polygon points="373.5,58 375,58 375,59.5 373.5,59.5" fill="#111" stroke="#111" stroke-width="0.8" stroke-linejoin="round"/>
<polygon points="610,140.5 612,140.5 612,142.5 610,142.5" fill="#111" stroke="#111" stroke-width="0.8" stroke-linejoin="round"/>
<polygon points="613,145.5 615,145 615.5,147 613.3,147.3" fill="#111" stroke="#111" stroke-width="0.8" stroke-linejoin="round"/>
<polygon points="617,144.8 618.5,144.8 618.5,146.3 617,146.3" fill="#111" stroke="#111" stroke-width="0.8" stroke-linejoin="round"/>
<polygon points="622,148 624,148 624,149.8 622,149.8" fill="#111" stroke="#111" stroke-width="0.8" stroke-linejoin="round"/>
<polygon points="629,126 630.5,126 630.5,127.5 629,127.5" fill="#111" stroke="#111" stroke-width="0.8" stroke-linejoin="round"/>
<polygon points="637.5,129 639,129 639,130.3 637.5,130.3" fill="#111" stroke="#111" stroke-width="0.8" stroke-linejoin="round"/>
<polygon points="660.5,131 661.8,131 661.8,132.3 660.5,132.3" fill="#111" stroke="#111" stroke-width="0.8" stroke-linejoin="round"/>
<polygon points="585,98.5 586.5,98.8 586.8,102 585.3,102" fill="none" stroke="#111" stroke-width="0.8" stroke-linejoin="round"/>
<polygon points="582.5,104.5 584,105 584.3,108.5 582.6,108" fill="none" stroke="#111" stroke-width="0.8" stroke-linejoin="round"/></g>
<g clip-path="url(#clipc)"><polyline points="80.5,416 77.6,432.6 75.4,438.4 72.5,445.7 67.4,453 63,456.7 60.1,458.1 62.2,459.6 65.9,463.3 69.5,467.6 71.7,472 73.2,476.4 71,479.3 70.3,480 70.3,488.8 73.2,493.1 79,497.5 84.9,501.9 90.7,506.3 96.6,512.1 102.4,518 108.2,523.8 114.1,531.1 119.9,538.4 121.4,547.2 125.8,555.9 131.6,560.3 140.4,566.1 149.1,570.5 157.9,577.8 166.6,585.1 173,592" fill="none" stroke="#111" stroke-width="0.8" stroke-linejoin="round"/>
<polyline points="300,592 303.1,590.4 310.4,586.7 314.8,585.8 322.1,580.9 328.8,579.9 330.9,578 344,576.6 355.7,576.4 365.9,576.5 374.4,581.1 380.2,585.8 384,592" fill="none" stroke="#111" stroke-width="0.8" stroke-linejoin="round"/>
<polyline points="75.5,433.4 86,432.2 97.7,431.5 107.1,433.4 114.1,436.9 118.7,440.4 121.1,445 124.6,449.7 129.3,454.4 133.9,457.9 136.3,459 142.1,452 145.6,446.2 153.8,452 174.8,447.4 176,445 184,447.4 229.6,447.4 231.9,435.7 227.2,416" fill="none" stroke="#111" stroke-width="0.8" stroke-linejoin="round"/>
<polyline points="136.3,459 137.4,466.1 139.8,473.1 142.1,477.7 144.4,484.7 146.8,491.3" fill="none" stroke="#111" stroke-width="0.8" stroke-linejoin="round"/>
<polygon points="69.7,474.2 90.7,473.1 100.1,473.1 109.4,475.4 111.7,477.7 102.4,478.9 90.7,477.7 79,478.9 69.7,480.1" fill="none" stroke="#111" stroke-width="0.8" stroke-linejoin="round"/>
<polyline points="69.7,487.1 100.1,487.1 114.1,488.2 125.8,490.6 146.8,491.3 156.1,494.1 165.5,491.7 174.8,490.6 179.5,494.1 181.8,498.8 187.1,509.2 190,518 195.8,522.3 207.5,520.9 216.3,518 222.1,520.9 230.9,522.3 236.7,529.6 244.7,529.7 251.7,527.4 261.1,526.2 266.9,529.7 270.4,537.9 271.6,546.1 270.4,553.1 266.9,560.1 264.6,567.1 263.4,574.1 264.6,581.1 265.8,592" fill="none" stroke="#111" stroke-width="0.8" stroke-linejoin="round"/>
<polyline points="73.2,493.1 99.5,493.1 114.1,494.6 112.6,501.9 96.6,503.4 95.1,507.7" fill="none" stroke="#111" stroke-width="0.8" stroke-linejoin="round"/>
<polyline points="122.8,538.5 131.6,527.6 140.4,526 149.1,525.4 155.7,533 157.9,541.8 156.4,547.2 160.8,547.2 166.6,545.7 172.5,548.6 175.4,555.9 178.3,563.2 184.1,564.7 187.1,561.7 190,558.8 187.1,567.6 190,576.4 195.8,582.2 201.7,588 203.1,592" fill="none" stroke="#111" stroke-width="0.8" stroke-linejoin="round"/>
<polyline points="157.9,547.2 152,555.9 146.2,564.7 143.3,569.1" fill="none" stroke="#111" stroke-width="0.8" stroke-linejoin="round"/>
<polyline points="195.8,522.3 192.9,532.6 195.8,541.3 197.3,550.1 192.9,555.9 187.1,560.3" fill="none" stroke="#111" stroke-width="0.8" stroke-linejoin="round"/>
<polyline points="230.7,520.4 231.9,506.3 234.2,498.8 242.4,494.1 245.9,487.1 248.2,480.1 252.9,476.6 259.9,478.9 263.4,473.1 268.1,469.6 272.8,464.9 277.4,466.1 279.8,462.6 286.8,459 293.8,456.7 300.8,453.2 305.5,454.4 311.3,454.4 324.2,452 335.7,449.7 347.4,449.7 357.9,448.5 362.5,445 364.9,440.4 366,433.4 367.2,427.5 368.4,416" fill="none" stroke="#111" stroke-width="0.8" stroke-linejoin="round"/>
<polyline points="311.3,454.4 311.3,461.4 314.8,468.4 319.5,475.4 324.2,478.9 327.7,484.7 333.5,487.1 338.2,489.4 341.5,491.7 344,497" fill="none" stroke="#111" stroke-width="0.8" stroke-linejoin="round"/>
<polyline points="268.1,529.7 268.1,511 284.4,511 305.5,509.8 319.5,511" fill="none" stroke="#111" stroke-width="0.8" stroke-linejoin="round"/>
<polyline points="305.5,509.8 307.8,518 311.3,525 312.5,532 313.6,543.7 316,553.1 317.1,567.1 320.7,580" fill="none" stroke="#111" stroke-width="0.8" stroke-linejoin="round"/>
<polyline points="319.5,511 320.7,520.4 326.5,529.7 330,539 331.2,550.7 331.2,564.7 332.3,578" fill="none" stroke="#111" stroke-width="0.8" stroke-linejoin="round"/>
<polyline points="319.5,511 326.5,506.3 333.5,504 338.2,501.7 344,497 349.7,492.9 357.9,498.8 360.4,504 361.5,515.7 360.4,522.7 355.7,529.7 351,536.7 347.5,543.7 347.5,555.4 346.3,567.1 346.3,576.5" fill="none" stroke="#111" stroke-width="0.8" stroke-linejoin="round"/>
<polyline points="357.9,498.8 361.4,501.1 364.9,487.1 367.2,476.6 373.1,473.1 384.7,470.7 391.7,473.1 398.7,475.4 404.6,480.1 408.1,482.4 417.4,478.9 424.4,480.1 433.8,483.6 445.5,484.7 454.8,480.1 464.2,477.7 473.3,480.1 482.7,478.9 492,475.4 499,473.1" fill="none" stroke="#111" stroke-width="0.8" stroke-linejoin="round"/>
<polyline points="528.2,416 528.2,427.5 520.1,438 510.7,449.7 503.7,459 500.2,462.6 501.4,470.7 499,473.1 503.9,473.5 508.2,480.8 509.7,491 515.5,499.8 517.8,508.2" fill="none" stroke="#111" stroke-width="0.8" stroke-linejoin="round"/>
<polyline points="508.2,480.8 514.1,482.2 517,486.6 519.9,493.9 520.6,508.2 524.9,519.4 529.1,525.1 520.6,525.1 510.8,526.5 508,529.3 512.2,536.4 520.6,544.8 526.3,553.3 529.1,560.3 523.4,567.3 519.2,575.8 515,584.3 515,592" fill="none" stroke="#111" stroke-width="0.8" stroke-linejoin="round"/>
<polyline points="515.5,499.8 512.2,505.4 503.7,511 498.1,522.3 492.5,536.4 484,544.8 483,555.4 479.5,562.4 474.8,569.4 470.1,574.1 465.5,574.1 460.8,569.4 458.5,567.1 456.1,565.9 451.5,569.4 446.8,571.7 442.1,576.4 436.3,583.4 433,592" fill="none" stroke="#111" stroke-width="0.8" stroke-linejoin="round"/>
<polyline points="529.1,560.3 543.2,557.5 551.6,556.1 562.9,553.8 571.3,549 578.4,540.6 588.3,537.8 596.7,536.4 605.2,530.7 613.6,522.3 617.8,513.8 624.9,512.4 630.5,513.2 636.2,518 641.8,525.1 644.6,533.5 643.2,540.6 647.4,543.4 653.1,544.8 658.7,547.6 664.3,553.3 670,561.7 672.8,567.3 677,567.3" fill="none" stroke="#111" stroke-width="0.8" stroke-linejoin="round"/>
<polyline points="649.2,416 649.2,444 634.8,444.5 633.5,446.7 632.8,452.2 630.1,456.3 627.3,460.3 626.6,464.4 624.6,468.5 622.5,471.3 620.5,475.4 619.1,480.8 622.1,488.5 627.7,494.1 629.1,502.5 630.5,508.2 636.2,516.6 641.8,525.1" fill="none" stroke="#111" stroke-width="0.8" stroke-linejoin="round"/>
<polyline points="658.7,522.3 672.8,519.4 677,520.9" fill="none" stroke="#111" stroke-width="0.8" stroke-linejoin="round"/>
<polyline points="658.7,522.3 657.3,533.5 653.1,544.8" fill="none" stroke="#111" stroke-width="0.8" stroke-linejoin="round"/>
<polygon points="76,499 79,497.5 80,500 77,501" fill="#111" stroke="#111" stroke-width="0.8" stroke-linejoin="round"/>
<polygon points="81,502 84,501 85,504 82,505" fill="#111" stroke="#111" stroke-width="0.8" stroke-linejoin="round"/>
<polygon points="86,503 89,502.5 90,505 87,506" fill="#111" stroke="#111" stroke-width="0.8" stroke-linejoin="round"/>
<polygon points="84,506.5 87,506 87.5,508.5 85,509" fill="#111" stroke="#111" stroke-width="0.8" stroke-linejoin="round"/>
<polygon points="90,506 93,505.5 94,508 91,508.5" fill="#111" stroke="#111" stroke-width="0.8" stroke-linejoin="round"/>
<polygon points="88,509.5 90.5,509 91,511 89,511.5" fill="#111" stroke="#111" stroke-width="0.8" stroke-linejoin="round"/></g>
<rect x="24" y="11" width="303" height="358" fill="none" stroke="#858585" stroke-width="1.4"/>
<rect x="367.5" y="24.6" width="316.20000000000005" height="287.79999999999995" fill="none" stroke="#858585" stroke-width="1.4"/>
<rect x="43.5" y="417.2" width="631.8" height="173.8" fill="none" stroke="#858585" stroke-width="1.4"/>
<text x="0.6" y="11.2" font-family="'Liberation Sans', sans-serif" font-weight="bold" font-size="14.5px" fill="#000">a</text>
<text x="344.2" y="11.2" font-family="'Liberation Sans', sans-serif" font-weight="bold" font-size="14.5px" fill="#000">b</text>
<text x="0.6" y="416.4" font-family="'Liberation Sans', sans-serif" font-weight="bold" font-size="14.5px" fill="#000">c</text>
<text x="18.3" y="44.08" font-family="'Liberation Sans', sans-serif" font-size="7.9px" text-anchor="end" fill="#111">20°N</text>
<text x="18.3" y="96.08" font-family="'Liberation Sans', sans-serif" font-size="7.9px" text-anchor="end" fill="#111">15°N</text>
<text x="18.3" y="148.08" font-family="'Liberation Sans', sans-serif" font-size="7.9px" text-anchor="end" fill="#111">10°N</text>
<text x="18.3" y="200.08" font-family="'Liberation Sans', sans-serif" font-size="7.9px" text-anchor="end" fill="#111">5°N</text>
<text x="18.3" y="252.08" font-family="'Liberation Sans', sans-serif" font-size="7.9px" text-anchor="end" fill="#111">0°N</text>
<text x="18.3" y="304.08" font-family="'Liberation Sans', sans-serif" font-size="7.9px" text-anchor="end" fill="#111">5°S</text>
<text x="18.3" y="356.08" font-family="'Liberation Sans', sans-serif" font-size="7.9px" text-anchor="end" fill="#111">10°S</text>
<text transform="translate(57.84,374.1) rotate(-90)" font-family="'Liberation Sans', sans-serif" font-size="7.8px" text-anchor="end" fill="#111">25°E</text>
<text transform="translate(109.24,374.1) rotate(-90)" font-family="'Liberation Sans', sans-serif" font-size="7.8px" text-anchor="end" fill="#111">30°E</text>
<text transform="translate(160.64,374.1) rotate(-90)" font-family="'Liberation Sans', sans-serif" font-size="7.8px" text-anchor="end" fill="#111">35°E</text>
<text transform="translate(212.04,374.1) rotate(-90)" font-family="'Liberation Sans', sans-serif" font-size="7.8px" text-anchor="end" fill="#111">40°E</text>
<text transform="translate(263.44,374.1) rotate(-90)" font-family="'Liberation Sans', sans-serif" font-size="7.8px" text-anchor="end" fill="#111">45°E</text>
<text transform="translate(314.84,374.1) rotate(-90)" font-family="'Liberation Sans', sans-serif" font-size="7.8px" text-anchor="end" fill="#111">50°E</text>
<text x="362.0" y="36.99" font-family="'Liberation Sans', sans-serif" font-size="7.8px" text-anchor="end" fill="#111">5°N</text>
<text x="362.0" y="69.29" font-family="'Liberation Sans', sans-serif" font-size="7.8px" text-anchor="end" fill="#111">0°N</text>
<text x="362.0" y="101.59" font-family="'Liberation Sans', sans-serif" font-size="7.8px" text-anchor="end" fill="#111">5°S</text>
<text x="362.0" y="133.89" font-family="'Liberation Sans', sans-serif" font-size="7.8px" text-anchor="end" fill="#111">10°S</text>
<text x="362.0" y="166.19" font-family="'Liberation Sans', sans-serif" font-size="7.8px" text-anchor="end" fill="#111">15°S</text>
<text x="362.0" y="198.49" font-family="'Liberation Sans', sans-serif" font-size="7.8px" text-anchor="end" fill="#111">20°S</text>
<text x="362.0" y="230.79" font-family="'Liberation Sans', sans-serif" font-size="7.8px" text-anchor="end" fill="#111">25°S</text>
<text x="362.0" y="263.09" font-family="'Liberation Sans', sans-serif" font-size="7.8px" text-anchor="end" fill="#111">30°S</text>
<text x="362.0" y="295.39" font-family="'Liberation Sans', sans-serif" font-size="7.8px" text-anchor="end" fill="#111">35°S</text>
<text transform="translate(398.56,317.7) rotate(-90)" font-family="'Liberation Sans', sans-serif" font-size="7.7px" text-anchor="end" fill="#111">10°E</text>
<text transform="translate(430.86,317.7) rotate(-90)" font-family="'Liberation Sans', sans-serif" font-size="7.7px" text-anchor="end" fill="#111">15°E</text>
<text transform="translate(463.16,317.7) rotate(-90)" font-family="'Liberation Sans', sans-serif" font-size="7.7px" text-anchor="end" fill="#111">20°E</text>
<text transform="translate(495.46,317.7) rotate(-90)" font-family="'Liberation Sans', sans-serif" font-size="7.7px" text-anchor="end" fill="#111">25°E</text>
<text transform="translate(527.76,317.7) rotate(-90)" font-family="'Liberation Sans', sans-serif" font-size="7.7px" text-anchor="end" fill="#111">30°E</text>
<text transform="translate(560.06,317.7) rotate(-90)" font-family="'Liberation Sans', sans-serif" font-size="7.7px" text-anchor="end" fill="#111">35°E</text>
<text transform="translate(592.36,317.7) rotate(-90)" font-family="'Liberation Sans', sans-serif" font-size="7.7px" text-anchor="end" fill="#111">40°E</text>
<text transform="translate(624.66,317.7) rotate(-90)" font-family="'Liberation Sans', sans-serif" font-size="7.7px" text-anchor="end" fill="#111">45°E</text>
<text transform="translate(656.96,317.7) rotate(-90)" font-family="'Liberation Sans', sans-serif" font-size="7.7px" text-anchor="end" fill="#111">50°E</text>
<text x="38.4" y="458.05" font-family="'Liberation Sans', sans-serif" font-size="8.8px" text-anchor="end" fill="#111">15°N</text>
<text x="38.4" y="528.95" font-family="'Liberation Sans', sans-serif" font-size="8.8px" text-anchor="end" fill="#111">10°N</text>
<text transform="translate(98.75,596.8) rotate(-90)" font-family="'Liberation Sans', sans-serif" font-size="8.8px" text-anchor="end" fill="#111">15°W</text>
<text transform="translate(169.65,596.8) rotate(-90)" font-family="'Liberation Sans', sans-serif" font-size="8.8px" text-anchor="end" fill="#111">10°W</text>
<text transform="translate(240.55,596.8) rotate(-90)" font-family="'Liberation Sans', sans-serif" font-size="8.8px" text-anchor="end" fill="#111">5°W</text>
<text transform="translate(311.45,596.8) rotate(-90)" font-family="'Liberation Sans', sans-serif" font-size="8.8px" text-anchor="end" fill="#111">0°E</text>
<text transform="translate(382.35,596.8) rotate(-90)" font-family="'Liberation Sans', sans-serif" font-size="8.8px" text-anchor="end" fill="#111">5°E</text>
<text transform="translate(453.25,596.8) rotate(-90)" font-family="'Liberation Sans', sans-serif" font-size="8.8px" text-anchor="end" fill="#111">10°E</text>
<text transform="translate(524.15,596.8) rotate(-90)" font-family="'Liberation Sans', sans-serif" font-size="8.8px" text-anchor="end" fill="#111">15°E</text>
<text transform="translate(595.05,596.8) rotate(-90)" font-family="'Liberation Sans', sans-serif" font-size="8.8px" text-anchor="end" fill="#111">20°E</text>
<text transform="translate(665.95,596.8) rotate(-90)" font-family="'Liberation Sans', sans-serif" font-size="8.8px" text-anchor="end" fill="#111">25°E</text>
<rect x="47.20" y="635" width="89.02" height="11" fill="#fdfed6" stroke="#333" stroke-width="0.9"/>
<rect x="136.22" y="635" width="89.02" height="11" fill="#ddf1b1" stroke="#333" stroke-width="0.9"/>
<rect x="225.24" y="635" width="89.02" height="11" fill="#97d7b9" stroke="#333" stroke-width="0.9"/>
<rect x="314.26" y="635" width="89.02" height="11" fill="#42b5c6" stroke="#333" stroke-width="0.9"/>
<rect x="403.28" y="635" width="89.02" height="11" fill="#2b80bd" stroke="#333" stroke-width="0.9"/>
<rect x="492.30" y="635" width="89.02" height="11" fill="#2941a0" stroke="#333" stroke-width="0.9"/>
<polygon points="581.32,635 671,640.5 581.32,646" fill="#0b1d5a" stroke="#0b1d5a" stroke-width="0.6"/>
<text x="47.20" y="657.6" font-family="'Liberation Sans', sans-serif" font-size="7.9px" text-anchor="middle" fill="#111">-0.1</text>
<text x="136.22" y="657.6" font-family="'Liberation Sans', sans-serif" font-size="7.9px" text-anchor="middle" fill="#111">0.35</text>
<text x="225.24" y="657.6" font-family="'Liberation Sans', sans-serif" font-size="7.9px" text-anchor="middle" fill="#111">0.45</text>
<text x="314.26" y="657.6" font-family="'Liberation Sans', sans-serif" font-size="7.9px" text-anchor="middle" fill="#111">0.55</text>
<text x="403.28" y="657.6" font-family="'Liberation Sans', sans-serif" font-size="7.9px" text-anchor="middle" fill="#111">0.65</text>
<text x="492.30" y="657.6" font-family="'Liberation Sans', sans-serif" font-size="7.9px" text-anchor="middle" fill="#111">0.75</text>
<text x="581.32" y="657.6" font-family="'Liberation Sans', sans-serif" font-size="7.9px" text-anchor="middle" fill="#111">0.85</text>
</svg></body></html>
